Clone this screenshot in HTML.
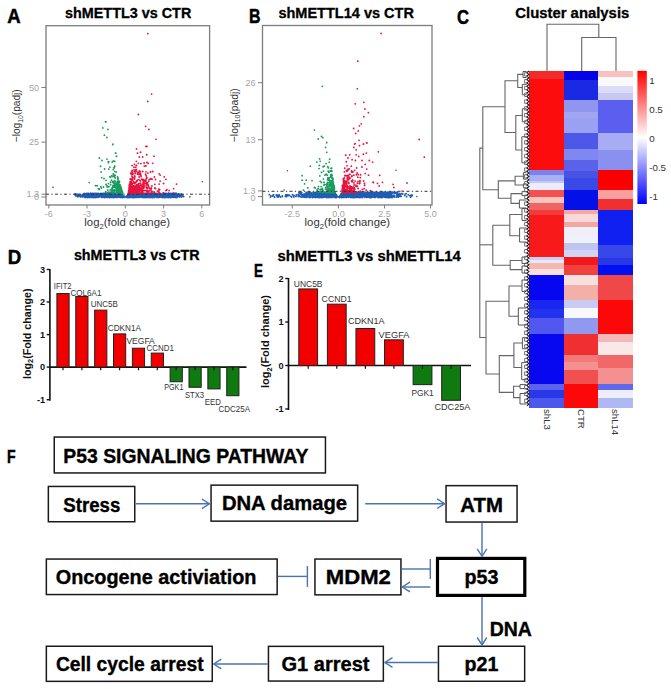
<!DOCTYPE html>
<html><head><meta charset="utf-8"><style>
html,body{margin:0;padding:0;background:#fff;}
svg{display:block;}
</style></head><body>
<svg width="671" height="689" viewBox="0 0 671 689">
<rect width="671" height="689" fill="#fff"/>
<text x="7.2" y="23.1" font-family="Liberation Sans" font-weight="bold" font-size="19.4" fill="#000" text-anchor="start" textLength="13.4" lengthAdjust="spacingAndGlyphs"  stroke="#000" stroke-width="0.5">A</text>
<text x="249.1" y="23.1" font-family="Liberation Sans" font-weight="bold" font-size="19.4" fill="#000" text-anchor="start" textLength="11.5" lengthAdjust="spacingAndGlyphs"  stroke="#000" stroke-width="0.5">B</text>
<text x="457.1" y="23.5" font-family="Liberation Sans" font-weight="bold" font-size="20.4" fill="#000" text-anchor="start" textLength="12.0" lengthAdjust="spacingAndGlyphs"  stroke="#000" stroke-width="0.5">C</text>
<text x="7.7" y="264.4" font-family="Liberation Sans" font-weight="bold" font-size="20.0" fill="#000" text-anchor="start" textLength="13.5" lengthAdjust="spacingAndGlyphs"  stroke="#000" stroke-width="0.5">D</text>
<text x="254.0" y="277.0" font-family="Liberation Sans" font-weight="bold" font-size="18.2" fill="#000" text-anchor="start" textLength="8.9" lengthAdjust="spacingAndGlyphs"  stroke="#000" stroke-width="0.5">E</text>
<text x="7.1" y="462.9" font-family="Liberation Sans" font-weight="bold" font-size="18.3" fill="#000" text-anchor="start" textLength="8.6" lengthAdjust="spacingAndGlyphs"  stroke="#000" stroke-width="0.5">F</text>
<text x="65.0" y="18.2" font-family="Liberation Sans" font-weight="bold" font-size="14.5" fill="#000" text-anchor="start" textLength="126.3" lengthAdjust="spacingAndGlyphs"  stroke="#000" stroke-width="0.3">shMETTL3 vs CTR</text>
<text x="278.4" y="18.0" font-family="Liberation Sans" font-weight="bold" font-size="14.5" fill="#000" text-anchor="start" textLength="135.5" lengthAdjust="spacingAndGlyphs"  stroke="#000" stroke-width="0.3">shMETTL14 vs CTR</text>
<text x="515.3" y="18.2" font-family="Liberation Sans" font-weight="bold" font-size="14.5" fill="#000" text-anchor="start" textLength="114.0" lengthAdjust="spacingAndGlyphs"  stroke="#000" stroke-width="0.3">Cluster analysis</text>
<text x="73.9" y="259.7" font-family="Liberation Sans" font-weight="bold" font-size="14.5" fill="#000" text-anchor="start" textLength="125.8" lengthAdjust="spacingAndGlyphs"  stroke="#000" stroke-width="0.3">shMETTL3 vs CTR</text>
<text x="277.5" y="260.9" font-family="Liberation Sans" font-weight="bold" font-size="14.5" fill="#000" text-anchor="start" textLength="183.3" lengthAdjust="spacingAndGlyphs"  stroke="#000" stroke-width="0.3">shMETTL3 vs shMETTL14</text>
<rect x="46.00" y="25.70" width="163.60" height="179.30" fill="none" stroke="#7c7c7c" stroke-width="1.3" />
<line x1="48.8" y1="205.0" x2="48.8" y2="208.5" stroke="#7c7c7c" stroke-width="1.0" />
<text x="48.8" y="216.6" font-family="Liberation Sans" font-size="9.0" fill="#a4a4a4" text-anchor="middle" >-6</text>
<line x1="87.0" y1="205.0" x2="87.0" y2="208.5" stroke="#7c7c7c" stroke-width="1.0" />
<text x="87.0" y="216.6" font-family="Liberation Sans" font-size="9.0" fill="#a4a4a4" text-anchor="middle" >-3</text>
<line x1="125.3" y1="205.0" x2="125.3" y2="208.5" stroke="#7c7c7c" stroke-width="1.0" />
<text x="125.3" y="216.6" font-family="Liberation Sans" font-size="9.0" fill="#a4a4a4" text-anchor="middle" >0</text>
<line x1="163.6" y1="205.0" x2="163.6" y2="208.5" stroke="#7c7c7c" stroke-width="1.0" />
<text x="163.6" y="216.6" font-family="Liberation Sans" font-size="9.0" fill="#a4a4a4" text-anchor="middle" >3</text>
<line x1="201.8" y1="205.0" x2="201.8" y2="208.5" stroke="#7c7c7c" stroke-width="1.0" />
<text x="201.8" y="216.6" font-family="Liberation Sans" font-size="9.0" fill="#a4a4a4" text-anchor="middle" >6</text>
<line x1="41.5" y1="87.5" x2="46.0" y2="87.5" stroke="#7c7c7c" stroke-width="1.0" />
<text x="39.0" y="90.7" font-family="Liberation Sans" font-size="9.0" fill="#a4a4a4" text-anchor="end" >50</text>
<line x1="41.5" y1="142.2" x2="46.0" y2="142.2" stroke="#7c7c7c" stroke-width="1.0" />
<text x="39.0" y="145.4" font-family="Liberation Sans" font-size="9.0" fill="#a4a4a4" text-anchor="end" >25</text>
<line x1="41.5" y1="194.2" x2="46.0" y2="194.2" stroke="#7c7c7c" stroke-width="1.0" />
<text x="39.0" y="196.6" font-family="Liberation Sans" font-size="9.0" fill="#a4a4a4" text-anchor="end" >1.3</text>
<line x1="41.5" y1="197.0" x2="46.0" y2="197.0" stroke="#7c7c7c" stroke-width="1.0" />
<text x="39.0" y="200.4" font-family="Liberation Sans" font-size="9.0" fill="#a4a4a4" text-anchor="end" >0</text>
<rect x="86.00" y="194.00" width="35.50" height="3.00" fill="#1f5cb4" stroke="none" stroke-width="1" />
<rect x="129.20" y="194.00" width="46.00" height="3.00" fill="#1f5cb4" stroke="none" stroke-width="1" />
<path d="M170.0 195.3h.01M131.2 195.8h.01M101.2 195.5h.01M142.6 196.6h.01M92.8 194.6h.01M92.4 196.7h.01M148.5 193.5h.01M175.3 197.4h.01M144.8 195.9h.01M98.6 193.4h.01M133.1 193.6h.01M101.7 194.3h.01M86.8 195.2h.01M132.3 196.0h.01M130.5 196.1h.01M176.8 197.5h.01M162.1 196.3h.01M113.3 194.3h.01M110.9 193.6h.01M155.3 195.0h.01M162.7 194.9h.01M173.1 196.9h.01M84.1 194.2h.01M168.7 195.3h.01M175.2 195.0h.01M90.8 195.9h.01M156.4 194.4h.01M92.1 194.7h.01M173.7 196.5h.01M95.0 194.3h.01M93.4 193.6h.01M158.1 194.0h.01M136.0 195.2h.01M101.7 196.4h.01M96.2 196.0h.01M94.8 195.1h.01M103.8 194.4h.01M174.3 196.7h.01M112.3 197.0h.01M103.6 195.0h.01M163.5 196.0h.01M93.3 197.5h.01M103.8 194.4h.01M155.9 194.7h.01M111.6 193.6h.01M92.4 195.7h.01M106.6 195.8h.01M118.6 195.2h.01M173.2 195.3h.01M137.4 196.9h.01M101.0 193.9h.01M168.5 196.7h.01M107.2 194.1h.01M152.8 197.2h.01M102.3 197.3h.01M166.0 195.8h.01M87.6 197.3h.01M106.2 196.3h.01M107.9 196.8h.01M139.5 194.5h.01M100.3 196.3h.01M90.4 194.3h.01M136.0 196.9h.01M141.1 194.5h.01M169.3 194.2h.01M85.5 194.4h.01M100.4 194.8h.01M137.2 193.9h.01M117.7 197.0h.01M175.2 196.1h.01M148.3 195.8h.01M97.1 193.4h.01M85.7 197.1h.01M149.2 197.3h.01M86.0 196.0h.01M128.8 196.4h.01M113.7 197.5h.01M91.0 195.6h.01M152.5 197.1h.01M152.5 196.3h.01M157.8 197.1h.01M116.7 196.2h.01M167.8 197.0h.01M122.8 196.6h.01M164.3 195.7h.01M142.1 194.9h.01M138.2 195.9h.01M91.5 196.0h.01M176.4 197.0h.01M151.7 194.9h.01M152.4 195.7h.01M91.8 196.5h.01M86.8 195.8h.01M128.7 194.3h.01M148.9 195.4h.01M141.1 197.2h.01M107.8 193.3h.01M112.0 196.1h.01M102.8 194.0h.01M168.2 196.1h.01M125.1 197.0h.01M114.4 196.1h.01M102.5 195.1h.01M159.0 197.1h.01M165.9 194.9h.01M138.2 194.6h.01M96.7 195.4h.01M161.8 196.9h.01M150.1 197.3h.01M109.7 194.0h.01M103.9 195.0h.01M142.2 195.4h.01M113.3 196.8h.01M175.3 195.2h.01M90.9 193.4h.01M165.2 193.5h.01M149.9 195.7h.01M112.7 196.6h.01M85.8 193.9h.01M161.2 194.3h.01M97.1 193.5h.01M142.5 195.2h.01M142.6 196.1h.01M159.1 197.3h.01M147.7 194.1h.01M85.0 195.3h.01M150.4 194.1h.01M109.3 194.8h.01M148.8 195.5h.01M141.1 196.5h.01M120.6 196.6h.01M168.3 193.7h.01M170.7 196.3h.01M96.1 195.2h.01M142.2 197.1h.01M119.0 195.7h.01M165.8 196.6h.01M171.8 195.2h.01M144.6 194.2h.01M151.1 196.7h.01M143.7 196.3h.01M103.8 197.1h.01M175.2 197.4h.01M133.9 196.6h.01M113.8 197.1h.01M163.6 194.8h.01M91.7 195.2h.01M135.2 196.5h.01M129.3 193.4h.01M159.3 193.6h.01M158.4 194.0h.01M115.2 196.6h.01M97.1 193.9h.01M132.0 196.3h.01M162.1 196.2h.01M172.0 195.4h.01M172.3 193.7h.01M104.6 195.5h.01M111.0 196.4h.01M143.4 195.5h.01M162.5 195.7h.01M113.0 194.9h.01M162.6 197.1h.01M103.4 196.9h.01M174.1 195.5h.01M137.3 194.1h.01M133.8 195.4h.01M140.3 193.4h.01M174.2 195.5h.01M121.3 196.7h.01M136.3 195.4h.01M148.3 193.6h.01M134.1 195.0h.01M173.0 197.2h.01M109.0 195.3h.01M95.8 195.1h.01M159.9 197.1h.01M128.3 194.6h.01M101.8 195.9h.01M170.1 193.8h.01M156.5 193.4h.01M102.1 194.3h.01M147.9 194.7h.01M117.0 195.9h.01M93.8 196.4h.01M95.4 195.4h.01M107.3 194.1h.01M133.3 195.1h.01M118.9 195.0h.01M133.2 194.0h.01M103.0 196.0h.01M143.4 195.5h.01M163.2 195.9h.01M163.7 194.3h.01M152.9 196.7h.01M167.9 194.6h.01M113.3 197.2h.01M104.3 197.5h.01M166.5 193.9h.01M106.3 196.4h.01M108.1 193.7h.01M161.4 195.1h.01M157.5 193.8h.01M121.5 196.2h.01M85.7 194.1h.01M147.5 197.1h.01M174.1 193.8h.01M131.0 196.5h.01M130.8 196.2h.01M101.6 193.6h.01M93.9 193.5h.01M135.3 195.5h.01M136.9 193.9h.01M101.2 194.2h.01M162.1 197.5h.01M170.2 193.7h.01M89.8 197.3h.01M127.0 196.5h.01M114.4 195.3h.01M131.9 195.1h.01M139.9 193.4h.01M149.2 196.8h.01M100.9 195.2h.01M152.8 195.0h.01M102.1 194.0h.01M131.7 193.4h.01M167.1 196.7h.01M149.5 196.9h.01M142.5 195.0h.01M139.8 195.4h.01M175.4 196.7h.01M108.0 197.1h.01M153.2 196.6h.01M159.8 195.0h.01M167.4 197.0h.01M148.6 196.5h.01M155.2 195.0h.01M151.2 193.6h.01M115.8 195.3h.01M85.0 194.8h.01M143.4 195.9h.01M105.6 197.3h.01M145.9 194.7h.01M145.4 195.7h.01M133.6 194.9h.01M177.0 196.0h.01M149.2 196.5h.01M175.1 193.4h.01M141.2 196.4h.01M107.9 195.0h.01M88.7 194.1h.01M118.9 193.7h.01M107.3 197.1h.01M135.2 195.4h.01M173.9 195.7h.01M176.5 196.0h.01M159.3 193.6h.01M139.6 196.5h.01M88.2 197.2h.01M98.9 195.3h.01M99.7 195.4h.01M140.8 193.5h.01M171.9 195.1h.01M133.0 195.8h.01M118.0 194.5h.01M144.9 195.7h.01M110.4 196.3h.01M111.5 193.4h.01M106.8 193.5h.01M98.6 196.5h.01M120.3 197.1h.01M153.6 193.5h.01M176.0 197.3h.01M90.8 197.1h.01M174.5 194.3h.01M132.7 197.2h.01M151.2 195.3h.01M175.0 196.7h.01M140.1 193.8h.01M142.1 195.2h.01M102.9 193.5h.01M133.1 193.8h.01M138.1 195.1h.01M156.4 195.5h.01M176.8 197.3h.01M152.3 194.3h.01M94.6 197.0h.01M156.9 195.9h.01M117.4 194.4h.01M147.7 195.7h.01M139.0 196.0h.01M154.1 194.1h.01M107.2 197.4h.01M169.2 197.0h.01M87.7 193.6h.01M109.2 195.1h.01M142.0 193.7h.01M134.4 193.6h.01M92.0 196.1h.01M135.2 196.0h.01M118.7 195.3h.01M103.6 194.7h.01M153.3 196.8h.01M90.9 193.8h.01M159.3 195.9h.01M155.5 194.2h.01M159.3 194.8h.01M144.8 197.5h.01M114.3 195.6h.01M153.4 197.2h.01M93.0 197.0h.01M91.3 193.6h.01M136.5 195.3h.01M147.7 194.6h.01M156.1 193.6h.01M103.8 196.1h.01M91.6 194.6h.01M151.4 196.2h.01M110.3 193.9h.01M117.3 196.3h.01M118.1 193.8h.01M150.0 195.7h.01M169.4 197.2h.01M168.9 195.1h.01M158.7 194.6h.01M113.5 195.0h.01M170.9 197.1h.01M107.1 194.8h.01M118.0 194.8h.01M120.8 194.9h.01M102.1 195.7h.01M158.1 195.6h.01M161.8 195.7h.01M100.4 196.5h.01M165.9 194.5h.01M86.1 195.5h.01M134.6 195.7h.01M173.9 196.0h.01M158.8 193.6h.01M134.9 196.6h.01M91.8 193.6h.01M152.5 197.1h.01M91.9 196.0h.01M97.4 196.4h.01M144.4 194.3h.01M104.5 196.5h.01M132.5 196.5h.01M120.7 194.7h.01M174.0 196.1h.01M129.9 195.6h.01M151.0 196.3h.01M169.1 195.0h.01M160.8 196.1h.01M163.4 196.7h.01M161.5 197.0h.01M173.1 196.0h.01M132.7 196.3h.01M158.6 195.1h.01M152.9 197.5h.01M118.9 194.0h.01M103.0 195.1h.01M111.2 197.4h.01M89.5 194.6h.01M94.7 196.0h.01M156.2 194.1h.01M89.8 195.2h.01M138.3 197.1h.01M87.4 193.8h.01M101.2 194.2h.01M105.9 196.3h.01M139.3 194.2h.01M101.2 194.5h.01M100.0 196.5h.01M113.0 195.6h.01M160.0 195.3h.01M108.2 197.0h.01M169.0 194.7h.01M134.9 197.3h.01M128.9 194.2h.01M88.6 197.3h.01M158.5 194.9h.01M133.1 195.5h.01M109.5 197.5h.01M145.2 194.3h.01M85.0 195.3h.01M118.6 196.6h.01M150.3 195.8h.01M98.6 194.0h.01M113.9 194.4h.01M164.8 195.5h.01M143.2 197.5h.01M108.8 195.5h.01M98.0 196.5h.01M84.1 196.7h.01M162.7 196.8h.01M91.7 194.4h.01M150.6 193.7h.01M128.6 195.3h.01M172.9 195.8h.01M163.7 194.6h.01M157.4 195.1h.01M169.3 193.7h.01M160.8 194.2h.01M134.5 195.5h.01M98.7 196.8h.01M113.0 194.6h.01M91.1 194.6h.01M127.5 196.3h.01M117.5 196.2h.01M93.8 195.0h.01M126.9 197.4h.01M161.2 196.0h.01M85.1 194.9h.01M150.0 194.3h.01M136.5 195.2h.01M85.0 197.5h.01M158.3 194.2h.01M141.3 194.5h.01M119.0 195.6h.01M111.7 194.7h.01M120.5 196.1h.01M107.8 194.1h.01M152.0 194.7h.01M171.9 195.7h.01M151.3 194.7h.01M160.9 193.7h.01M97.1 193.7h.01M147.0 196.3h.01M100.7 195.0h.01M161.8 195.8h.01M92.4 194.3h.01M98.6 193.8h.01M169.6 195.1h.01M131.6 196.0h.01M155.3 196.7h.01M119.9 194.7h.01M121.3 196.2h.01M175.3 196.6h.01M145.4 195.9h.01M85.7 194.7h.01M115.8 196.0h.01M93.9 194.9h.01M131.4 196.6h.01M160.7 195.9h.01M98.7 196.5h.01M168.0 195.6h.01M116.8 195.4h.01M97.2 196.3h.01M175.8 195.5h.01M150.5 196.8h.01M102.3 197.3h.01M142.3 194.1h.01M91.7 194.3h.01M137.6 196.2h.01M114.6 197.2h.01M117.6 195.2h.01M95.5 197.4h.01M96.6 197.1h.01M134.5 195.7h.01M136.1 194.4h.01M168.6 197.5h.01M160.0 195.8h.01M95.4 196.8h.01M110.8 197.1h.01M106.4 195.7h.01M161.3 194.1h.01M135.0 193.6h.01M87.0 194.1h.01M175.8 197.2h.01M145.2 194.6h.01M146.4 196.4h.01M119.5 195.8h.01M158.8 193.4h.01M102.6 195.3h.01M97.3 194.9h.01M137.0 194.0h.01M132.3 194.4h.01M136.8 194.7h.01M143.7 193.5h.01M146.4 193.9h.01M173.2 195.8h.01M127.7 195.0h.01M142.0 196.2h.01M154.5 196.5h.01M129.2 197.5h.01M162.0 196.9h.01M122.0 195.1h.01M136.6 197.1h.01M132.9 195.5h.01M124.2 197.1h.01M113.8 193.5h.01M151.5 197.1h.01M152.1 195.8h.01M153.9 194.6h.01M139.2 193.6h.01M95.6 195.2h.01M130.7 195.0h.01M88.8 196.2h.01M132.9 194.3h.01M112.5 195.0h.01M105.9 193.6h.01M168.8 197.4h.01M145.9 196.9h.01M123.2 196.7h.01M104.6 196.4h.01M136.7 197.1h.01M93.2 196.6h.01M95.5 195.6h.01M172.4 193.3h.01M106.7 194.6h.01M114.2 193.6h.01M167.2 196.7h.01M120.9 194.8h.01M138.5 193.5h.01M86.9 197.1h.01M112.6 195.4h.01M170.9 197.4h.01M111.5 197.2h.01M167.4 194.1h.01M161.9 194.8h.01M165.8 197.5h.01M102.8 196.0h.01M101.8 197.0h.01M88.7 193.7h.01M151.5 194.6h.01M167.7 197.0h.01M150.3 193.9h.01M148.7 197.2h.01M104.8 194.6h.01M150.1 194.1h.01M100.8 194.3h.01M145.8 196.6h.01M118.6 196.1h.01M166.3 195.8h.01M105.3 194.6h.01M170.2 196.1h.01M109.7 196.0h.01M92.4 197.4h.01M133.4 193.5h.01M139.8 194.5h.01M107.3 196.7h.01M92.1 194.5h.01M154.3 194.3h.01M110.0 195.6h.01M101.3 197.1h.01M175.9 193.4h.01M126.9 196.5h.01M119.8 197.2h.01M130.5 194.1h.01M135.7 196.0h.01M117.4 196.1h.01M156.8 195.5h.01M131.0 196.9h.01M147.6 195.5h.01M172.5 194.0h.01M156.5 194.0h.01M140.6 194.3h.01M157.2 196.6h.01M105.9 195.4h.01M104.6 195.7h.01M130.4 193.4h.01M139.5 196.3h.01M137.3 197.0h.01M100.7 193.9h.01M85.7 195.4h.01M108.5 196.7h.01M90.7 197.1h.01M136.9 195.6h.01M157.6 194.3h.01M97.6 194.6h.01M87.9 194.6h.01M141.8 195.5h.01M108.6 195.8h.01M92.2 196.7h.01M100.0 194.4h.01M98.9 196.2h.01M161.3 196.6h.01M89.7 195.0h.01M117.9 194.2h.01M174.3 193.5h.01M129.5 196.5h.01M175.7 193.9h.01M126.3 196.4h.01M87.6 194.3h.01M166.8 193.9h.01M120.5 194.6h.01M87.2 197.5h.01M155.0 196.4h.01M105.4 194.4h.01M135.3 194.3h.01M126.9 197.2h.01M117.9 194.7h.01M175.3 195.9h.01M87.7 195.0h.01M144.4 193.5h.01M115.9 196.2h.01M164.4 195.8h.01M166.4 195.2h.01M120.5 196.8h.01M119.4 196.6h.01M104.0 194.8h.01M101.1 195.6h.01M99.2 194.2h.01M103.9 195.3h.01M112.7 195.2h.01M176.4 196.2h.01M164.2 194.2h.01M119.6 193.6h.01M148.3 194.8h.01M109.5 193.4h.01M100.9 194.4h.01M120.5 197.2h.01M150.5 194.4h.01M117.6 193.9h.01M171.1 194.8h.01M155.2 196.3h.01M168.4 193.4h.01M114.0 194.9h.01M91.7 197.0h.01M114.2 196.5h.01M132.3 193.5h.01M120.6 194.3h.01M87.8 193.9h.01M139.4 193.4h.01M113.0 195.1h.01M134.6 193.9h.01M149.7 194.4h.01M151.5 196.1h.01M97.7 194.2h.01M110.1 196.3h.01M121.7 194.9h.01M164.5 194.2h.01M111.2 194.7h.01M104.1 193.5h.01M86.3 195.9h.01M136.6 196.7h.01M174.7 194.6h.01M146.4 197.2h.01M104.1 196.2h.01M146.0 197.3h.01M164.8 194.3h.01M142.8 193.7h.01M89.6 194.9h.01M114.5 195.4h.01M110.0 194.0h.01M121.4 195.3h.01M99.5 196.1h.01M106.3 193.7h.01M115.8 195.1h.01M98.0 195.7h.01M149.2 195.6h.01M149.1 193.4h.01M120.4 194.8h.01M89.9 195.0h.01M89.1 195.4h.01M138.5 195.3h.01M114.3 194.4h.01M86.2 194.8h.01M166.9 195.7h.01M108.4 196.1h.01M101.3 195.3h.01M141.2 197.3h.01M117.7 195.7h.01M171.6 196.5h.01M142.3 195.9h.01M122.2 195.0h.01M109.7 196.8h.01M165.8 194.9h.01M168.6 193.5h.01M96.6 195.4h.01M112.7 194.8h.01M174.9 193.9h.01M101.9 194.3h.01M147.3 194.3h.01M84.1 195.6h.01M120.6 194.3h.01M129.9 196.0h.01M135.0 195.9h.01M136.2 196.8h.01M174.1 194.7h.01M116.2 197.0h.01M113.1 196.3h.01M148.7 196.2h.01M173.6 196.8h.01M98.8 195.9h.01M129.6 195.7h.01M118.4 194.5h.01M153.7 195.5h.01M106.0 194.3h.01M114.2 194.0h.01M131.8 193.8h.01M89.9 193.6h.01M93.5 196.3h.01M94.5 195.2h.01M155.8 195.3h.01M99.1 196.9h.01M164.9 193.5h.01M107.6 195.4h.01M158.1 194.9h.01M150.6 194.4h.01M150.6 194.7h.01M115.0 196.5h.01M162.4 196.8h.01M136.8 195.1h.01M149.7 195.9h.01M161.3 196.7h.01M95.6 194.9h.01M146.3 194.3h.01M101.2 193.4h.01M138.5 197.3h.01M174.3 193.9h.01M147.9 195.1h.01M142.7 195.0h.01M170.8 197.5h.01M88.5 196.3h.01M95.0 193.5h.01M110.6 196.4h.01M176.4 193.8h.01M114.7 193.4h.01M134.5 195.3h.01M118.7 194.6h.01M158.4 196.8h.01M110.4 194.9h.01M141.5 196.5h.01M175.2 194.9h.01M148.5 195.6h.01M158.4 193.9h.01M100.3 193.7h.01M170.8 194.4h.01M129.4 193.8h.01M114.1 193.4h.01M136.6 193.9h.01M142.2 194.5h.01M105.2 195.3h.01M118.0 194.4h.01M88.8 193.6h.01M167.0 194.6h.01M91.3 194.1h.01M129.0 197.5h.01M102.8 196.9h.01M129.0 195.0h.01M159.1 195.0h.01M89.4 195.6h.01M145.1 195.9h.01M109.8 197.2h.01M164.4 197.5h.01M151.4 194.0h.01M86.5 194.0h.01M95.0 193.6h.01M117.4 196.5h.01M112.8 195.5h.01M85.0 194.2h.01M173.2 193.3h.01M133.0 196.7h.01M157.7 196.4h.01M121.1 196.7h.01M161.0 196.5h.01M175.7 193.7h.01M172.4 195.0h.01M149.6 194.4h.01M168.6 193.4h.01M137.6 194.3h.01M120.1 194.9h.01M145.1 196.7h.01M117.9 196.0h.01M116.9 194.5h.01M168.2 194.7h.01M92.8 194.7h.01M153.0 194.2h.01M153.1 195.6h.01M147.3 194.0h.01M93.8 193.9h.01M116.6 195.1h.01M84.9 195.4h.01M121.5 194.7h.01M134.0 197.3h.01M103.0 197.0h.01M113.8 196.5h.01M94.1 197.4h.01M124.0 197.3h.01M104.4 195.0h.01M149.7 194.0h.01M109.4 196.1h.01M172.1 194.7h.01M101.1 194.8h.01M176.0 193.9h.01M143.0 194.9h.01M143.9 194.2h.01M141.3 197.0h.01M163.6 195.9h.01M131.0 195.7h.01M94.6 196.8h.01M148.2 195.2h.01M145.9 195.1h.01M119.8 194.3h.01M139.9 195.7h.01M131.9 193.4h.01M142.3 195.2h.01M139.2 195.8h.01M170.6 193.9h.01M127.6 197.5h.01M152.6 194.6h.01M152.5 197.5h.01M121.4 196.9h.01M95.8 197.5h.01M129.7 194.3h.01M162.1 196.0h.01M171.2 196.8h.01M158.2 195.4h.01M176.4 193.6h.01M164.9 196.3h.01M107.3 196.7h.01M164.5 194.1h.01M110.0 196.0h.01M90.8 195.6h.01M157.2 195.4h.01M106.5 196.7h.01M163.5 196.5h.01M135.1 197.1h.01M158.1 193.9h.01M118.0 193.7h.01M87.4 194.8h.01M164.4 196.8h.01M94.9 194.1h.01M120.1 196.9h.01M141.4 197.1h.01M90.7 197.4h.01M103.2 195.9h.01M165.5 196.4h.01M102.3 196.1h.01M115.6 194.6h.01M142.6 194.5h.01M140.1 196.2h.01M100.8 193.8h.01M148.5 195.3h.01M96.0 193.8h.01M171.5 195.9h.01M117.3 194.1h.01M176.5 196.2h.01M152.5 194.8h.01M112.9 195.0h.01M97.6 196.0h.01M123.5 196.7h.01M122.0 195.2h.01M131.1 197.3h.01M116.2 196.3h.01M105.9 195.7h.01M110.5 197.0h.01M110.6 196.9h.01M146.9 195.2h.01M170.8 194.9h.01M153.1 195.8h.01M125.0 197.3h.01M111.2 196.2h.01M146.5 194.3h.01M167.3 194.4h.01M160.3 196.9h.01M138.9 195.6h.01M93.2 197.1h.01M92.2 194.8h.01M118.8 196.3h.01M146.2 194.7h.01M167.5 197.3h.01M86.2 196.0h.01M146.4 195.8h.01M174.2 197.4h.01M176.3 195.0h.01M161.1 196.0h.01M149.2 197.5h.01M90.2 195.2h.01M121.3 196.1h.01M104.3 197.5h.01M103.5 194.9h.01M97.3 195.0h.01M153.0 193.7h.01M99.5 196.0h.01M141.9 196.4h.01M107.6 196.7h.01M152.0 196.6h.01M95.1 195.3h.01M85.5 196.9h.01M171.8 197.1h.01M86.2 194.8h.01M133.8 195.5h.01M94.3 196.6h.01M112.0 195.4h.01M95.6 195.7h.01M96.1 193.7h.01M131.6 194.5h.01M156.3 194.3h.01M104.2 195.2h.01M135.9 195.2h.01M163.1 193.7h.01M163.1 194.0h.01M174.2 195.5h.01M121.8 195.9h.01M164.3 197.3h.01M98.3 196.7h.01M152.3 196.3h.01M98.6 195.5h.01M86.7 193.8h.01M112.0 197.4h.01M143.8 196.9h.01M88.3 195.0h.01M91.3 194.4h.01M94.4 197.2h.01M114.6 195.4h.01M144.8 197.0h.01M172.0 195.7h.01M130.6 197.1h.01M120.7 194.6h.01M152.8 194.4h.01M118.2 195.1h.01M128.3 194.8h.01M88.6 196.8h.01M89.7 195.5h.01M134.9 195.0h.01M104.7 193.7h.01M118.6 194.6h.01M129.0 194.3h.01M153.7 195.3h.01M84.8 195.0h.01M173.9 193.3h.01M139.2 197.3h.01M118.0 195.8h.01M118.3 194.6h.01M140.7 195.8h.01M113.3 195.4h.01M132.0 196.5h.01M88.9 193.7h.01M107.4 194.4h.01M158.0 195.1h.01M164.0 195.0h.01M110.6 196.2h.01M91.9 197.4h.01M161.3 194.7h.01M113.5 196.7h.01M157.3 196.0h.01M89.3 196.5h.01M88.5 195.9h.01M135.3 197.2h.01M143.4 193.4h.01M170.9 196.5h.01M137.9 193.3h.01M152.5 195.1h.01M147.2 197.4h.01M169.3 193.6h.01M156.7 195.2h.01M153.9 194.9h.01M95.0 194.6h.01M152.3 193.6h.01M94.8 196.8h.01M146.0 195.6h.01M94.5 193.8h.01M112.8 197.3h.01M136.1 197.2h.01M103.6 195.0h.01M133.9 196.8h.01M95.5 197.0h.01M146.7 197.2h.01M129.9 196.2h.01M120.1 196.6h.01M93.8 196.4h.01M99.5 195.8h.01M102.8 194.8h.01M99.2 194.8h.01M139.0 195.5h.01M120.1 195.7h.01M162.3 194.8h.01M138.3 195.3h.01M175.2 194.7h.01M148.9 194.3h.01M108.3 196.4h.01M137.5 194.4h.01M90.0 196.8h.01M119.1 196.3h.01M136.0 197.4h.01M168.6 195.2h.01M129.3 194.3h.01M154.0 193.7h.01M112.5 196.9h.01M87.3 196.2h.01M136.8 195.6h.01M115.0 193.9h.01M172.4 196.5h.01M158.9 193.7h.01M156.9 194.2h.01M102.5 195.5h.01M140.7 193.8h.01M155.1 195.7h.01M167.6 197.2h.01M148.1 194.8h.01M172.4 196.3h.01M111.1 196.9h.01M151.6 194.4h.01M107.2 193.4h.01M134.0 194.4h.01M111.3 194.4h.01M96.2 195.3h.01M109.4 194.5h.01M109.8 195.4h.01M165.3 194.0h.01M163.9 196.9h.01M140.7 195.6h.01M152.3 195.5h.01M145.4 197.2h.01M156.1 194.4h.01M89.1 197.2h.01M117.7 196.6h.01M105.7 195.2h.01M118.5 196.4h.01M171.8 195.4h.01M136.6 194.8h.01M105.6 197.3h.01M94.3 197.3h.01M145.1 193.6h.01M167.9 193.7h.01M136.6 193.8h.01M176.0 194.6h.01M165.1 193.6h.01M146.0 193.6h.01M86.8 195.7h.01M175.4 196.2h.01M163.5 196.6h.01M132.5 193.6h.01M133.0 194.1h.01M133.0 194.8h.01M130.4 194.1h.01M149.6 195.1h.01M129.2 193.6h.01M129.3 195.6h.01M174.4 195.7h.01M96.5 194.6h.01M115.2 196.2h.01M171.3 197.4h.01M172.3 197.2h.01M163.9 197.2h.01M85.9 195.4h.01M138.9 196.2h.01M141.0 195.9h.01M170.8 193.7h.01M132.3 197.3h.01M87.0 193.8h.01M164.8 197.3h.01M86.2 193.4h.01M161.2 196.2h.01M132.3 195.7h.01M154.4 196.7h.01M84.1 193.6h.01M157.9 197.4h.01M161.5 195.0h.01M115.2 194.8h.01M85.4 196.5h.01M108.4 195.8h.01M132.9 194.7h.01M146.8 195.2h.01M105.8 197.0h.01M100.3 193.9h.01M107.6 195.3h.01M156.9 194.7h.01M106.2 196.0h.01M108.2 195.5h.01M107.7 197.0h.01M101.2 194.3h.01M112.0 194.7h.01M151.6 196.1h.01M157.5 195.6h.01M91.3 196.5h.01M106.7 194.2h.01M122.5 197.5h.01M118.5 194.8h.01M168.7 197.5h.01M120.0 193.9h.01M157.4 196.6h.01M115.4 196.6h.01M119.3 194.5h.01M139.2 196.4h.01M128.3 196.7h.01M85.3 195.4h.01M119.4 193.6h.01M169.1 193.9h.01M103.1 197.0h.01M173.3 197.2h.01M115.8 197.2h.01M97.2 196.3h.01M171.9 194.1h.01M96.6 196.1h.01M166.1 196.4h.01M172.3 195.2h.01M118.6 193.8h.01M109.4 197.2h.01M90.7 194.1h.01M116.3 193.5h.01M112.5 194.1h.01M95.4 195.5h.01M134.2 195.7h.01M154.9 195.5h.01M172.1 193.6h.01M104.7 193.6h.01M112.8 196.5h.01M169.9 195.4h.01M98.9 194.7h.01M136.9 194.5h.01M157.7 197.4h.01M126.8 195.8h.01M162.7 195.3h.01M101.7 197.3h.01M174.9 193.4h.01M154.9 195.0h.01M88.8 194.0h.01M100.1 196.4h.01M103.7 193.4h.01M104.4 196.7h.01M130.4 196.0h.01M85.4 194.6h.01M87.9 194.4h.01M141.5 194.9h.01M128.0 195.9h.01M113.5 194.8h.01M166.2 195.7h.01M122.8 195.6h.01M169.0 194.3h.01M171.0 196.9h.01M166.0 194.0h.01M131.3 197.4h.01M110.8 194.0h.01M151.3 194.3h.01M138.3 194.0h.01M172.1 194.5h.01M93.0 196.2h.01M116.3 195.6h.01M130.2 197.2h.01M131.8 194.9h.01M84.2 195.4h.01M109.0 195.7h.01M142.8 195.2h.01M92.4 195.4h.01M128.8 196.0h.01M174.2 194.5h.01M158.4 194.3h.01M161.1 196.7h.01M107.7 197.1h.01M130.9 195.1h.01M135.6 197.3h.01M129.6 195.3h.01M111.0 196.8h.01M130.8 194.7h.01M102.3 194.2h.01M161.6 196.7h.01M175.0 197.2h.01M147.7 196.6h.01M150.2 196.7h.01M158.5 194.0h.01M159.8 194.6h.01M106.7 197.2h.01M86.1 195.4h.01M115.9 196.6h.01M140.8 197.1h.01M170.7 196.0h.01M90.0 196.1h.01M94.2 197.4h.01M165.0 194.6h.01M101.3 196.2h.01M154.5 197.4h.01M141.9 193.8h.01M151.6 193.5h.01M164.7 196.5h.01M157.0 197.0h.01M136.9 197.3h.01M143.4 195.4h.01M119.8 194.8h.01M86.1 194.0h.01M158.0 194.3h.01M144.8 196.6h.01M148.6 195.5h.01M113.4 194.4h.01M101.4 196.0h.01M147.8 197.3h.01M114.7 197.2h.01M168.8 194.5h.01M172.5 195.9h.01M173.5 196.6h.01M115.0 194.5h.01M132.6 195.3h.01M87.3 196.9h.01M133.8 195.3h.01M153.2 194.3h.01M102.5 195.7h.01M106.4 194.7h.01M90.5 193.5h.01M117.0 195.5h.01M172.2 196.0h.01M122.5 195.0h.01M105.9 195.3h.01M173.2 193.8h.01M124.3 196.2h.01M154.9 195.6h.01M143.6 197.2h.01M167.9 194.4h.01M134.3 197.5h.01M133.1 194.1h.01M155.2 193.5h.01M98.0 195.6h.01M109.3 196.3h.01M151.6 194.6h.01M155.3 196.0h.01M149.7 195.2h.01M128.2 197.3h.01M166.6 193.5h.01M90.6 194.4h.01M148.6 195.1h.01M95.9 195.1h.01M137.3 196.4h.01M121.5 196.0h.01M147.4 195.9h.01M88.3 196.3h.01M96.0 193.5h.01M90.8 194.9h.01M172.7 196.9h.01M129.3 195.8h.01M113.4 197.4h.01M95.2 194.6h.01M104.5 196.9h.01M131.3 195.0h.01M121.1 197.0h.01M107.9 196.6h.01M149.9 195.2h.01M118.0 195.1h.01M142.0 195.0h.01M112.2 196.5h.01M165.8 195.2h.01M119.0 197.1h.01M174.8 196.6h.01M121.3 196.1h.01M152.9 194.5h.01M151.3 197.3h.01M145.0 196.1h.01M105.0 196.5h.01M134.1 197.4h.01M115.8 196.3h.01M85.6 195.0h.01M155.3 194.4h.01M141.1 194.2h.01M121.0 197.5h.01M102.3 197.1h.01M89.6 195.7h.01M160.4 196.8h.01M120.4 195.8h.01M150.2 196.5h.01M153.4 195.7h.01M107.4 196.3h.01M136.2 195.6h.01M175.8 193.9h.01M156.6 194.7h.01M151.6 197.3h.01M109.5 195.7h.01M133.1 195.4h.01M99.5 195.9h.01M167.1 196.1h.01M110.9 196.7h.01M140.3 195.2h.01M133.3 197.5h.01M137.0 197.3h.01M116.8 196.5h.01M91.0 194.6h.01M148.3 196.2h.01M161.0 194.9h.01M109.4 194.8h.01M134.0 193.4h.01M118.8 196.1h.01M97.8 194.6h.01M165.2 197.2h.01M107.2 194.0h.01M94.9 193.7h.01M157.8 196.4h.01M108.6 195.4h.01M148.7 193.4h.01M160.2 196.9h.01M103.7 196.3h.01M149.0 194.7h.01M165.7 194.2h.01M128.1 194.6h.01M137.0 195.9h.01M175.8 194.2h.01M104.7 195.9h.01M98.0 197.3h.01M115.7 195.1h.01M124.1 196.8h.01M169.1 196.1h.01M99.9 194.8h.01M149.7 194.2h.01M166.1 197.0h.01M105.1 194.8h.01M105.3 196.3h.01M88.4 196.2h.01M89.8 196.8h.01M134.5 195.7h.01M92.9 193.5h.01M116.8 197.4h.01M139.8 196.9h.01M89.8 193.7h.01M85.9 196.2h.01M100.4 194.4h.01M146.0 196.2h.01M114.0 195.3h.01M110.9 195.7h.01M117.1 194.8h.01M107.1 194.5h.01M108.3 193.4h.01M112.9 195.8h.01M109.0 193.8h.01M162.7 195.3h.01M131.6 194.6h.01M166.5 196.5h.01M141.9 196.1h.01M148.4 195.4h.01M122.4 194.9h.01M130.9 195.3h.01M133.2 195.5h.01M157.3 197.0h.01M104.8 193.4h.01M112.0 193.4h.01M158.1 195.9h.01M110.6 194.1h.01M164.8 196.8h.01M147.6 196.2h.01M153.2 195.2h.01M121.0 195.6h.01M165.9 197.5h.01M169.3 196.8h.01M90.9 194.3h.01M174.3 195.6h.01M131.9 194.6h.01M164.2 195.5h.01M176.1 193.6h.01M176.4 193.4h.01M97.8 194.9h.01M143.5 193.8h.01M136.3 197.2h.01M124.5 196.5h.01M139.0 195.7h.01M100.1 195.2h.01M167.7 196.1h.01M104.2 195.2h.01M134.6 194.7h.01M137.7 196.0h.01M85.7 194.2h.01M145.1 194.2h.01M90.8 196.5h.01M115.0 197.3h.01M136.0 193.7h.01M143.2 194.4h.01M159.7 196.3h.01M154.5 193.5h.01M87.2 196.7h.01M97.1 194.1h.01M86.8 194.0h.01M128.0 197.3h.01M113.9 194.4h.01M161.0 194.1h.01M143.1 195.9h.01M171.0 193.5h.01M136.4 194.9h.01M160.6 194.4h.01M150.5 194.1h.01M130.0 197.4h.01M106.3 194.5h.01M169.3 196.1h.01M90.1 194.1h.01M106.1 194.5h.01M162.5 196.2h.01M175.1 196.1h.01M142.4 194.9h.01M150.7 195.4h.01M89.5 195.4h.01M119.7 195.5h.01M88.5 193.4h.01M175.4 194.9h.01M114.7 193.9h.01M139.1 197.1h.01M100.8 195.4h.01M130.5 196.5h.01M136.6 194.3h.01M101.6 196.3h.01M91.3 196.9h.01M87.1 194.1h.01M127.5 196.8h.01M141.6 196.4h.01M154.8 196.3h.01M88.8 196.8h.01M97.7 194.0h.01M87.5 193.4h.01M165.6 194.9h.01M92.0 193.5h.01M162.7 195.8h.01M169.2 193.5h.01M94.5 194.5h.01M101.8 193.8h.01M102.7 196.0h.01M99.6 194.0h.01M133.8 194.9h.01M97.9 195.7h.01M131.2 194.9h.01M141.2 194.1h.01M115.2 193.3h.01M166.6 195.8h.01M120.5 195.6h.01M171.4 193.9h.01M119.7 196.3h.01M118.6 196.3h.01M168.5 193.5h.01M110.5 194.5h.01M153.8 196.6h.01M149.1 197.2h.01M101.3 195.0h.01M163.3 196.5h.01M94.5 197.4h.01M152.9 196.9h.01M117.7 195.8h.01M173.2 197.1h.01M137.7 197.0h.01M176.9 196.8h.01M145.0 197.3h.01M97.4 195.0h.01M136.5 193.9h.01M156.6 193.6h.01M142.5 194.5h.01M114.0 195.8h.01M101.8 195.2h.01M163.7 197.4h.01M108.4 194.8h.01M148.5 194.1h.01M163.0 194.1h.01M135.8 194.7h.01M84.1 193.3h.01M84.2 194.7h.01M109.6 197.5h.01M143.3 193.6h.01M150.6 194.3h.01M128.8 196.3h.01M163.7 197.2h.01M121.0 194.6h.01M153.0 195.2h.01M147.8 193.9h.01M156.8 197.4h.01M102.9 195.9h.01M75.6 194.1h.01M179.9 194.5h.01M81.3 195.7h.01M181.7 196.9h.01M74.6 194.3h.01M177.3 195.4h.01M82.2 196.1h.01M180.8 196.6h.01M77.7 194.3h.01M181.5 194.1h.01M76.3 194.1h.01M178.1 194.2h.01M79.3 194.4h.01M181.2 196.5h.01M77.4 194.4h.01M181.7 196.2h.01M82.8 195.7h.01M181.1 196.6h.01M80.8 196.9h.01M179.0 196.3h.01M80.3 195.4h.01M177.1 195.4h.01M76.6 195.8h.01M180.6 195.5h.01M74.6 194.4h.01M181.2 196.0h.01M83.9 196.4h.01M179.0 195.4h.01M79.1 196.4h.01M179.8 196.8h.01M78.8 195.2h.01M180.4 195.1h.01M84.0 194.1h.01M179.8 194.2h.01M80.8 194.5h.01M178.0 195.3h.01M80.0 196.3h.01M180.1 194.9h.01M77.7 196.7h.01M178.5 194.0h.01M82.9 195.4h.01M177.9 194.4h.01M82.9 196.2h.01M177.5 196.0h.01M76.1 195.3h.01M181.2 194.2h.01M83.4 195.0h.01M178.0 196.3h.01M75.1 194.1h.01M181.6 195.4h.01M83.0 196.4h.01M178.4 194.1h.01M80.0 195.4h.01M179.1 196.8h.01M76.1 195.9h.01M177.5 196.8h.01M83.5 195.9h.01M179.2 196.2h.01M83.0 196.4h.01M177.3 195.5h.01M75.4 195.6h.01M183.7 196.6h.01M76.5 195.7h.01M179.2 194.5h.01M81.4 196.3h.01M179.4 195.3h.01M81.0 196.2h.01M180.2 194.4h.01M75.0 194.5h.01M182.8 195.5h.01M80.4 195.1h.01M179.6 194.5h.01M83.7 195.8h.01M177.9 196.1h.01M80.0 195.8h.01M182.4 195.8h.01M82.8 196.9h.01M179.8 195.9h.01M77.7 195.2h.01M179.6 195.9h.01" stroke="#1f5cb4" stroke-width="1.80" stroke-linecap="round" opacity="1.0" fill="none"/>
<path d="M118.7 185.0h.01M118.1 192.5h.01M121.9 190.8h.01M120.4 186.1h.01M119.3 182.2h.01M112.1 188.0h.01M106.0 184.5h.01M117.4 186.0h.01M117.6 187.9h.01M119.8 191.2h.01M108.9 186.7h.01M120.4 192.0h.01M118.1 186.3h.01M120.6 190.5h.01M118.4 184.2h.01M119.5 191.7h.01M115.0 177.7h.01M114.3 192.3h.01M117.9 190.2h.01M120.6 191.6h.01M122.4 192.0h.01M107.1 186.9h.01M118.9 190.9h.01M118.6 188.8h.01M118.2 185.9h.01M117.9 179.4h.01M122.0 191.5h.01M118.4 183.2h.01M116.2 187.8h.01M121.5 190.3h.01M120.7 192.5h.01M122.3 192.4h.01M120.9 189.1h.01M105.7 191.8h.01M121.0 189.9h.01M121.0 189.6h.01M113.4 190.3h.01M119.0 186.0h.01M117.0 186.9h.01M119.4 184.8h.01M117.6 182.5h.01M120.4 188.0h.01M117.3 190.7h.01M121.0 188.2h.01M119.5 191.6h.01M115.9 184.5h.01M95.5 185.6h.01M116.1 190.2h.01M118.0 178.2h.01M116.5 187.7h.01M121.9 191.9h.01M122.6 192.9h.01M111.7 193.0h.01M120.6 193.3h.01M111.1 189.7h.01M119.9 184.7h.01M112.0 189.5h.01M116.7 192.2h.01M119.7 190.7h.01M116.3 193.2h.01M121.3 189.0h.01M111.5 192.3h.01M118.9 185.9h.01M111.9 189.4h.01M113.8 174.8h.01M115.2 175.5h.01M112.6 188.0h.01M120.6 188.1h.01M114.0 176.2h.01M110.2 189.9h.01M116.4 191.8h.01M112.9 186.7h.01M117.6 176.9h.01M114.1 185.3h.01M118.4 182.8h.01M119.0 181.1h.01M120.2 186.4h.01M117.2 184.3h.01M119.6 192.6h.01M116.6 189.7h.01M117.6 181.5h.01M112.4 191.4h.01M121.6 191.9h.01M107.0 159.1h.01M119.8 190.0h.01M117.0 182.7h.01M120.2 191.9h.01M121.6 191.2h.01M113.0 185.4h.01M116.8 190.7h.01M112.7 187.2h.01M108.6 161.6h.01M118.9 193.1h.01M118.9 192.1h.01M118.1 185.9h.01M116.0 190.8h.01M118.9 188.1h.01M114.0 183.3h.01M119.3 192.6h.01M112.1 191.3h.01M117.7 187.3h.01M118.7 183.9h.01M121.5 191.9h.01M121.4 190.6h.01M120.5 188.6h.01M108.8 169.1h.01M97.2 185.8h.01M117.6 189.6h.01M113.3 174.0h.01M122.4 193.0h.01M100.5 166.2h.01M117.6 188.4h.01M120.7 187.4h.01M114.8 184.6h.01M119.6 189.8h.01M113.7 181.8h.01M119.9 185.0h.01M121.6 190.0h.01M118.1 189.4h.01M120.3 192.0h.01M119.5 181.6h.01M116.3 188.1h.01M118.2 191.5h.01M121.1 191.0h.01M119.0 192.6h.01M120.7 192.6h.01M119.1 192.2h.01M120.9 187.0h.01M117.0 191.7h.01M110.6 184.8h.01M116.4 189.3h.01M107.3 185.9h.01M120.8 189.9h.01M107.7 190.3h.01M99.4 158.0h.01M116.2 172.0h.01M114.6 180.6h.01M121.9 192.6h.01M119.3 190.4h.01M121.4 192.3h.01M107.9 192.6h.01M112.0 190.7h.01M118.3 192.5h.01M119.6 185.9h.01M121.2 192.1h.01M101.1 172.1h.01M110.4 192.2h.01M116.0 184.3h.01M109.9 176.7h.01M122.7 193.4h.01M113.8 187.3h.01M119.7 190.7h.01M118.6 190.7h.01M111.8 175.7h.01M113.0 192.3h.01M115.4 185.9h.01M121.1 189.9h.01M115.4 187.8h.01M110.5 177.2h.01M114.2 167.7h.01M105.9 192.5h.01M121.6 192.6h.01M115.8 185.1h.01M117.4 182.6h.01M121.2 190.3h.01M120.9 191.9h.01M120.6 186.8h.01M117.7 189.4h.01M119.9 186.9h.01M121.1 188.1h.01M119.0 189.8h.01M117.7 190.2h.01M115.1 186.5h.01M116.8 192.7h.01M119.6 189.6h.01M111.4 193.4h.01M121.8 192.7h.01M114.9 190.4h.01M110.5 182.2h.01M121.7 191.9h.01M120.1 186.0h.01M118.4 190.9h.01M119.3 186.3h.01M114.1 193.5h.01M111.5 180.1h.01M113.8 190.2h.01M117.4 187.2h.01M118.2 192.4h.01M112.7 182.4h.01M114.4 190.0h.01M120.0 190.3h.01M117.8 189.4h.01M115.1 177.9h.01M109.9 167.1h.01M114.4 185.5h.01M114.8 166.2h.01M117.8 179.0h.01M115.1 183.3h.01M120.4 188.7h.01M119.9 189.9h.01M118.9 181.3h.01M120.9 191.7h.01M120.5 189.0h.01M117.9 193.3h.01M108.8 192.1h.01M112.5 181.7h.01M118.3 184.7h.01M117.3 190.9h.01M118.9 192.1h.01M119.1 188.8h.01" stroke="#1a9a5c" stroke-width="1.90" stroke-linecap="round" opacity="1.0" fill="none"/>
<path d="M103.5 187.0h.01M114.2 190.7h.01M102.0 160.5h.01M117.4 181.8h.01M114.7 171.3h.01M114.0 167.7h.01M106.0 180.3h.01M101.7 177.6h.01M118.7 193.4h.01M98.3 188.8h.01M115.4 181.6h.01M99.3 189.4h.01" stroke="#1a9a5c" stroke-width="1.80" stroke-linecap="round" opacity="1.0" fill="none"/>
<path d="M105.9 122.0h.01M102.8 127.9h.01M107.9 129.4h.01M106.9 137.5h.01M112.7 144.6h.01M115.5 153.2h.01M116.5 156.2h.01M108.4 162.0h.01M113.5 160.8h.01M112.2 162.0h.01M115.8 153.2h.01M116.4 156.3h.01M108.4 162.7h.01M113.5 160.8h.01M114.7 161.4h.01M104.6 169.0h.01M113.2 169.6h.01M104.0 178.5h.01M112.8 176.6h.01M108.4 183.6h.01M100.8 186.7h.01M98.9 188.6h.01M101.4 188.0h.01M105.5 121.6h.01M104.4 135.2h.01M113.0 144.1h.01" stroke="#1a9a5c" stroke-width="1.80" stroke-linecap="round" opacity="1.0" fill="none"/>
<path d="M132.3 187.8h.01M134.6 189.9h.01M139.8 190.0h.01M141.5 191.8h.01M158.7 189.1h.01M130.0 188.6h.01M136.2 165.5h.01M138.2 179.6h.01M131.6 193.2h.01M134.3 171.6h.01M143.6 181.5h.01M133.2 187.6h.01M136.0 189.0h.01M139.5 189.2h.01M136.9 192.5h.01M134.2 191.4h.01M132.5 190.1h.01M135.7 191.8h.01M129.0 192.7h.01M169.1 190.6h.01M128.8 190.6h.01M136.5 188.2h.01M130.4 186.7h.01M130.4 184.2h.01M141.9 186.3h.01M139.7 172.2h.01M129.1 192.6h.01M134.8 176.5h.01M130.1 184.3h.01M147.9 184.4h.01M136.8 184.9h.01M140.5 152.3h.01M134.7 175.9h.01M140.8 193.4h.01M140.3 171.4h.01M150.7 193.2h.01M143.0 190.8h.01M138.9 174.6h.01M137.2 192.6h.01M129.8 188.0h.01M133.9 186.8h.01M130.4 189.4h.01M134.3 192.7h.01M143.1 179.4h.01M141.9 189.8h.01M140.0 186.1h.01M142.3 192.9h.01M136.4 189.6h.01M163.3 192.7h.01M130.1 190.3h.01M144.0 186.1h.01M129.2 193.0h.01M146.7 154.8h.01M136.7 185.8h.01M129.2 190.4h.01M138.2 192.2h.01M135.5 191.2h.01M141.2 188.0h.01M134.0 188.5h.01M129.4 184.9h.01M133.6 193.0h.01M158.2 193.1h.01M149.5 188.3h.01M130.3 192.5h.01M136.4 193.2h.01M138.2 187.2h.01M137.0 188.5h.01M139.5 191.0h.01M143.3 187.5h.01M138.1 191.4h.01M130.0 186.9h.01M154.3 192.8h.01M152.7 171.5h.01M136.7 189.3h.01M136.7 189.1h.01M163.6 183.5h.01M130.5 189.6h.01M129.7 190.3h.01M133.5 191.1h.01M141.5 192.6h.01M141.0 190.1h.01M149.3 179.4h.01M136.3 181.6h.01M131.4 188.6h.01M130.4 190.7h.01M146.5 190.8h.01M131.5 191.2h.01M132.7 173.9h.01M151.7 191.4h.01M131.1 189.9h.01M132.0 176.2h.01M131.4 186.1h.01M147.0 162.5h.01M140.9 163.6h.01M129.5 184.5h.01M134.5 177.8h.01M131.2 190.1h.01M148.9 193.2h.01M146.6 185.0h.01M136.5 184.8h.01M135.5 186.2h.01M136.5 188.1h.01M129.9 182.1h.01M144.1 183.7h.01M135.2 182.7h.01M147.1 190.4h.01M133.1 189.3h.01M151.4 188.0h.01M131.4 192.5h.01M159.6 192.9h.01M134.0 190.4h.01M137.2 191.0h.01M130.4 186.6h.01M132.1 192.0h.01M131.9 190.1h.01M143.2 186.6h.01M146.2 182.7h.01M146.9 191.8h.01M140.9 175.2h.01M133.8 191.4h.01M136.8 187.8h.01M158.7 191.2h.01M134.6 190.6h.01M132.1 184.6h.01M135.6 190.8h.01M136.4 169.8h.01M132.4 190.4h.01M132.2 179.0h.01M134.0 167.2h.01M173.6 188.6h.01M148.1 193.3h.01M137.6 191.6h.01M133.6 193.0h.01M145.8 180.8h.01M135.0 191.3h.01M142.5 193.5h.01M147.0 188.4h.01M128.9 192.2h.01M132.0 192.3h.01M140.6 183.2h.01M154.9 188.0h.01M135.6 187.4h.01M134.2 188.7h.01M135.3 191.7h.01M134.7 179.0h.01M138.5 184.0h.01M135.3 189.8h.01M134.7 190.2h.01M140.3 180.9h.01M129.5 193.1h.01M133.0 185.7h.01M130.2 179.0h.01M137.0 180.7h.01M146.5 182.6h.01M135.7 192.3h.01M140.1 192.3h.01M148.4 185.8h.01M133.9 186.9h.01M133.9 190.2h.01M130.3 189.6h.01M134.9 192.4h.01M138.4 193.4h.01M130.2 190.9h.01M130.7 173.1h.01M139.7 186.7h.01M139.2 177.0h.01M134.4 187.0h.01M137.2 190.5h.01M135.1 173.4h.01M137.5 189.7h.01M144.2 184.1h.01M132.4 173.3h.01M140.4 174.8h.01M136.9 185.2h.01M160.2 175.1h.01M140.5 189.7h.01M131.4 187.6h.01M132.8 186.3h.01M129.1 192.4h.01M142.7 180.6h.01M148.8 181.1h.01M138.2 190.0h.01M152.2 191.9h.01M132.4 177.7h.01M135.4 191.9h.01M132.7 180.3h.01M132.1 187.9h.01M140.4 193.5h.01M139.8 187.8h.01M131.3 179.4h.01M150.5 172.0h.01M142.5 191.3h.01M145.2 190.4h.01M132.0 189.9h.01M142.7 171.5h.01M142.6 192.9h.01M147.7 182.6h.01M130.0 182.0h.01M135.4 186.6h.01M151.3 188.4h.01M146.5 191.1h.01M132.1 191.0h.01M154.1 191.9h.01M133.8 187.2h.01M139.8 180.1h.01M147.9 187.8h.01M128.5 191.9h.01M131.2 184.1h.01M143.1 184.2h.01M135.4 170.3h.01M139.4 191.1h.01M140.4 173.6h.01M128.5 192.0h.01M137.6 192.7h.01M129.3 190.8h.01M131.9 186.1h.01M131.2 189.2h.01M133.3 177.6h.01M131.0 189.5h.01M131.7 183.9h.01M136.5 188.3h.01M131.1 182.2h.01M130.0 191.3h.01M143.1 190.3h.01M145.6 174.3h.01M138.1 188.7h.01M143.1 183.0h.01M146.2 187.3h.01M138.9 188.1h.01M133.2 189.8h.01M145.9 165.9h.01M142.7 192.4h.01M129.0 189.0h.01M154.4 176.9h.01M134.0 188.4h.01M134.4 193.3h.01M134.2 193.0h.01M131.0 173.8h.01M136.0 182.3h.01M130.1 192.3h.01M129.2 189.4h.01M133.7 186.3h.01M133.8 182.7h.01M135.6 171.6h.01M144.5 190.5h.01M139.2 191.4h.01M165.9 190.6h.01M150.8 178.8h.01M136.8 186.9h.01M135.7 188.3h.01M132.0 187.8h.01M146.2 183.2h.01M137.9 190.6h.01M129.6 193.5h.01M133.9 185.9h.01M140.3 185.8h.01M141.3 187.9h.01M137.6 193.4h.01M131.6 183.0h.01M145.1 180.2h.01M166.9 189.8h.01M147.2 184.5h.01M137.4 174.0h.01M137.4 190.7h.01M152.0 179.2h.01M133.6 187.5h.01M130.3 185.8h.01M132.2 193.0h.01M148.8 190.9h.01M135.0 191.2h.01M130.4 186.9h.01M135.4 189.1h.01M135.2 192.1h.01M130.5 192.1h.01M137.6 187.3h.01M132.1 165.6h.01M130.3 184.0h.01M140.8 193.3h.01M132.1 171.6h.01M130.6 181.7h.01M129.1 187.3h.01M129.3 191.8h.01M131.2 181.2h.01M151.9 185.9h.01M138.2 184.1h.01M132.4 183.3h.01M129.8 189.9h.01M129.5 184.3h.01M133.7 181.8h.01M131.9 171.5h.01M129.3 185.6h.01M146.8 177.4h.01M160.1 181.1h.01M135.1 187.7h.01M141.1 176.6h.01M133.5 191.8h.01M133.6 187.6h.01M147.9 173.1h.01M135.3 189.1h.01M139.0 172.8h.01M136.4 165.5h.01M131.4 187.2h.01M133.8 187.4h.01M137.5 172.2h.01M143.6 185.8h.01M144.1 163.0h.01M128.4 193.3h.01M143.9 187.7h.01M133.8 190.3h.01M131.4 187.7h.01M138.2 188.6h.01M131.4 191.6h.01M130.6 191.8h.01M141.0 184.8h.01M134.5 190.1h.01M159.6 189.8h.01M146.2 175.7h.01M141.8 179.2h.01M144.3 166.1h.01M133.5 193.3h.01M148.2 191.3h.01M131.9 173.5h.01M134.3 183.3h.01M129.4 188.6h.01M137.7 189.2h.01M137.7 185.0h.01M133.6 193.0h.01M129.5 192.5h.01M142.7 192.5h.01M139.0 183.6h.01M144.7 180.7h.01M141.6 188.8h.01M129.7 192.5h.01M135.5 189.5h.01M133.3 191.5h.01M159.1 184.1h.01M131.1 173.8h.01M149.9 190.5h.01M130.0 188.6h.01M145.6 183.1h.01" stroke="#e8123e" stroke-width="1.90" stroke-linecap="round" opacity="1.0" fill="none"/>
<path d="M132.3 170.4h.01M165.9 179.3h.01M135.9 171.2h.01M143.2 184.2h.01M131.8 186.3h.01M143.3 187.5h.01M132.0 192.4h.01M133.1 173.8h.01M154.8 184.3h.01M136.5 148.9h.01M138.3 185.0h.01M144.1 182.9h.01M176.5 184.1h.01M134.0 169.8h.01M142.7 188.4h.01M164.2 176.8h.01M138.2 186.6h.01M148.6 186.6h.01M150.9 189.4h.01M131.0 187.6h.01M131.7 192.5h.01M129.4 189.1h.01M155.6 188.6h.01M139.2 171.0h.01M142.9 184.9h.01M135.7 167.3h.01M143.4 187.8h.01M130.2 185.5h.01M148.2 163.4h.01M128.9 193.0h.01M173.4 193.5h.01M151.5 191.4h.01M141.2 188.3h.01M145.0 185.8h.01M134.0 189.2h.01M132.7 173.8h.01M146.0 179.1h.01M139.0 185.8h.01M134.7 183.6h.01M135.3 187.8h.01M131.8 174.5h.01M146.7 178.2h.01M146.0 171.8h.01M159.1 173.8h.01M145.4 181.0h.01M140.5 192.7h.01M136.8 180.8h.01M139.3 186.7h.01M134.4 164.3h.01M144.4 180.5h.01M146.0 193.2h.01M135.0 186.4h.01M139.1 183.7h.01M155.5 179.5h.01M157.3 191.1h.01" stroke="#e8123e" stroke-width="1.80" stroke-linecap="round" opacity="1.0" fill="none"/>
<path d="M147.8 33.6h.01M151.6 94.1h.01M147.8 101.4h.01M138.4 114.5h.01M145.6 126.4h.01M148.9 129.4h.01M156.0 139.3h.01M145.9 146.4h.01M146.9 146.4h.01M137.5 153.2h.01M139.3 157.0h.01M142.6 157.0h.01M154.0 156.2h.01M136.3 161.3h.01M138.3 163.3h.01M152.7 163.3h.01" stroke="#e8123e" stroke-width="1.80" stroke-linecap="round" opacity="1.0" fill="none"/>
<path d="M53.0 187.4h.01M89.2 182.6h.01M202.3 181.8h.01M189.9 196.9h.01" stroke="#555" stroke-width="1.60" stroke-linecap="round" opacity="1.0" fill="none"/>
<line x1="46.0" y1="194.2" x2="209.6" y2="194.2" stroke="#333" stroke-width="1.0" stroke-dasharray="3,2.4,1.2,2.4"/>
<rect x="262.50" y="25.50" width="169.50" height="179.50" fill="none" stroke="#7c7c7c" stroke-width="1.3" />
<line x1="292.3" y1="205.0" x2="292.3" y2="208.5" stroke="#7c7c7c" stroke-width="1.0" />
<text x="292.3" y="216.6" font-family="Liberation Sans" font-size="9.0" fill="#a4a4a4" text-anchor="middle" >-2.5</text>
<line x1="338.4" y1="205.0" x2="338.4" y2="208.5" stroke="#7c7c7c" stroke-width="1.0" />
<text x="338.4" y="216.6" font-family="Liberation Sans" font-size="9.0" fill="#a4a4a4" text-anchor="middle" >0.0</text>
<line x1="384.5" y1="205.0" x2="384.5" y2="208.5" stroke="#7c7c7c" stroke-width="1.0" />
<text x="384.5" y="216.6" font-family="Liberation Sans" font-size="9.0" fill="#a4a4a4" text-anchor="middle" >2.5</text>
<line x1="430.5" y1="205.0" x2="430.5" y2="208.5" stroke="#7c7c7c" stroke-width="1.0" />
<text x="430.5" y="216.6" font-family="Liberation Sans" font-size="9.0" fill="#a4a4a4" text-anchor="middle" >5.0</text>
<line x1="258.0" y1="82.7" x2="262.5" y2="82.7" stroke="#7c7c7c" stroke-width="1.0" />
<text x="255.5" y="85.9" font-family="Liberation Sans" font-size="9.0" fill="#a4a4a4" text-anchor="end" >26</text>
<line x1="258.0" y1="139.7" x2="262.5" y2="139.7" stroke="#7c7c7c" stroke-width="1.0" />
<text x="255.5" y="142.9" font-family="Liberation Sans" font-size="9.0" fill="#a4a4a4" text-anchor="end" >13</text>
<line x1="258.0" y1="190.9" x2="262.5" y2="190.9" stroke="#7c7c7c" stroke-width="1.0" />
<text x="255.5" y="194.1" font-family="Liberation Sans" font-size="9.0" fill="#a4a4a4" text-anchor="end" >1.3</text>
<line x1="258.0" y1="196.6" x2="262.5" y2="196.6" stroke="#7c7c7c" stroke-width="1.0" />
<text x="255.5" y="200.8" font-family="Liberation Sans" font-size="9.0" fill="#a4a4a4" text-anchor="end" >0</text>
<rect x="318.00" y="193.30" width="16.50" height="3.80" fill="#1f5cb4" stroke="none" stroke-width="1" />
<rect x="342.50" y="193.30" width="46.00" height="3.80" fill="#1f5cb4" stroke="none" stroke-width="1" />
<path d="M392.3 197.3h.01M352.1 192.9h.01M317.6 194.6h.01M344.4 192.3h.01M350.3 196.2h.01M334.6 192.5h.01M377.9 195.4h.01M365.1 195.6h.01M397.0 194.2h.01M335.6 195.3h.01M365.4 193.9h.01M306.7 194.8h.01M358.2 194.6h.01M363.5 193.2h.01M316.2 193.9h.01M318.0 192.8h.01M381.7 194.0h.01M335.7 193.8h.01M329.1 196.4h.01M354.0 193.6h.01M308.9 196.4h.01M382.5 193.5h.01M353.6 197.2h.01M358.5 197.3h.01M380.6 195.9h.01M397.3 196.5h.01M352.9 197.5h.01M374.4 194.1h.01M353.5 196.6h.01M323.8 194.5h.01M389.9 194.6h.01M389.0 196.6h.01M368.1 194.4h.01M368.7 196.7h.01M363.2 193.5h.01M328.1 194.4h.01M376.7 195.2h.01M354.1 196.7h.01M355.1 196.7h.01M323.3 197.3h.01M306.0 195.2h.01M322.0 195.2h.01M346.0 194.6h.01M371.3 192.2h.01M336.5 196.4h.01M367.5 193.1h.01M343.8 194.5h.01M368.3 195.1h.01M354.7 195.0h.01M328.4 197.1h.01M306.8 196.9h.01M348.8 196.4h.01M366.7 195.5h.01M327.7 193.9h.01M333.6 193.8h.01M340.8 196.6h.01M346.7 195.2h.01M324.1 193.7h.01M384.9 194.9h.01M355.7 194.6h.01M385.5 193.6h.01M384.8 193.5h.01M380.3 193.7h.01M334.9 193.0h.01M383.4 192.7h.01M373.3 194.3h.01M367.3 193.8h.01M306.0 197.1h.01M315.3 197.5h.01M316.6 192.3h.01M312.2 196.2h.01M370.3 195.3h.01M376.6 196.6h.01M359.5 195.4h.01M331.3 192.9h.01M341.5 193.9h.01M361.2 195.1h.01M385.6 194.6h.01M334.9 195.7h.01M374.0 197.2h.01M329.8 197.0h.01M336.8 196.4h.01M382.8 192.4h.01M375.3 195.1h.01M319.5 194.4h.01M381.9 195.4h.01M330.2 195.8h.01M343.4 193.1h.01M381.8 195.3h.01M396.7 195.1h.01M341.6 195.5h.01M391.7 197.5h.01M383.7 194.3h.01M301.5 194.3h.01M373.5 196.0h.01M366.2 193.7h.01M358.0 195.0h.01M353.3 192.9h.01M363.4 193.9h.01M361.3 196.3h.01M359.9 195.1h.01M318.1 194.1h.01M348.3 195.1h.01M378.7 193.8h.01M396.2 192.3h.01M356.1 197.1h.01M313.6 195.9h.01M366.0 192.8h.01M382.4 192.6h.01M306.3 196.5h.01M325.8 195.3h.01M399.2 195.7h.01M318.1 196.2h.01M372.6 192.6h.01M381.7 193.2h.01M320.2 192.5h.01M365.6 193.0h.01M397.5 192.2h.01M375.4 195.3h.01M356.3 196.5h.01M362.9 193.0h.01M379.3 194.1h.01M357.5 195.0h.01M390.2 194.4h.01M306.3 194.0h.01M360.4 196.7h.01M319.2 196.5h.01M379.2 193.0h.01M312.3 195.3h.01M360.6 194.5h.01M349.7 196.6h.01M351.3 195.1h.01M358.5 197.2h.01M379.6 196.7h.01M325.2 195.4h.01M382.0 196.1h.01M349.8 194.1h.01M318.9 194.9h.01M323.3 194.2h.01M388.3 194.7h.01M354.1 193.5h.01M301.9 195.4h.01M377.1 196.2h.01M313.6 195.2h.01M375.4 194.6h.01M373.3 194.7h.01M377.5 194.0h.01M307.4 194.5h.01M378.8 194.4h.01M366.0 194.2h.01M372.7 193.1h.01M387.8 197.3h.01M300.4 196.8h.01M368.7 192.8h.01M372.8 196.4h.01M361.9 197.4h.01M394.6 195.6h.01M312.7 193.8h.01M351.3 197.3h.01M362.9 195.6h.01M361.4 197.3h.01M359.2 194.4h.01M332.6 193.0h.01M392.5 196.4h.01M384.4 193.7h.01M398.5 194.5h.01M323.1 192.7h.01M362.0 195.9h.01M324.1 197.2h.01M397.3 195.9h.01M374.1 196.2h.01M332.6 195.1h.01M358.0 196.8h.01M378.7 192.8h.01M342.4 196.9h.01M334.2 192.7h.01M366.3 194.0h.01M356.3 196.2h.01M344.5 196.2h.01M361.2 196.8h.01M375.8 197.1h.01M374.1 193.7h.01M349.5 196.4h.01M378.0 196.1h.01M384.0 196.7h.01M353.2 195.7h.01M302.5 194.8h.01M391.2 196.8h.01M321.4 197.0h.01M365.0 193.2h.01M309.2 197.5h.01M375.4 196.6h.01M324.1 195.0h.01M315.6 195.5h.01M378.6 192.8h.01M319.0 194.3h.01M298.2 194.4h.01M386.3 193.2h.01M382.8 193.4h.01M322.4 195.6h.01M328.0 193.3h.01M391.0 192.4h.01M319.6 196.1h.01M347.4 195.6h.01M376.8 192.9h.01M323.3 193.0h.01M306.8 196.8h.01M348.6 194.9h.01M380.7 192.4h.01M349.6 195.6h.01M384.6 192.2h.01M357.2 192.4h.01M374.9 197.4h.01M354.0 195.8h.01M383.2 196.8h.01M381.6 194.8h.01M306.9 196.5h.01M369.5 193.9h.01M378.2 193.4h.01M322.6 197.1h.01M356.3 195.9h.01M350.2 193.4h.01M325.2 194.3h.01M307.7 196.6h.01M372.4 192.5h.01M374.0 197.2h.01M324.4 193.1h.01M332.7 196.8h.01M377.6 193.0h.01M390.0 196.2h.01M397.2 193.1h.01M321.8 193.4h.01M334.5 194.7h.01M391.6 195.3h.01M371.4 193.2h.01M379.9 196.3h.01M381.1 194.6h.01M353.3 192.6h.01M344.8 195.7h.01M375.1 196.8h.01M387.1 192.3h.01M355.9 194.7h.01M388.0 195.6h.01M314.9 192.4h.01M377.9 194.2h.01M320.8 195.2h.01M317.9 195.0h.01M330.5 195.9h.01M323.4 194.0h.01M355.5 197.3h.01M313.3 193.9h.01M330.1 194.8h.01M381.7 193.2h.01M371.3 194.5h.01M356.3 194.9h.01M359.5 193.2h.01M360.8 194.4h.01M378.0 195.4h.01M339.6 197.5h.01M316.3 192.3h.01M368.4 192.7h.01M373.0 192.7h.01M328.3 195.6h.01M300.1 194.5h.01M372.2 194.3h.01M390.7 195.3h.01M333.1 194.3h.01M369.5 196.3h.01M368.6 193.0h.01M341.0 193.9h.01M321.6 192.8h.01M374.3 193.0h.01M334.1 192.3h.01M369.9 195.6h.01M306.0 197.3h.01M374.5 196.6h.01M369.8 192.3h.01M325.9 193.5h.01M334.9 196.2h.01M321.9 193.7h.01M309.7 193.5h.01M348.0 196.2h.01M386.5 195.8h.01M334.8 197.4h.01M306.2 194.4h.01M367.6 194.1h.01M382.4 196.3h.01M371.8 193.6h.01M367.4 195.7h.01M383.7 195.0h.01M357.0 193.3h.01M361.0 194.0h.01M383.3 194.2h.01M358.1 193.5h.01M336.3 194.6h.01M370.6 194.9h.01M314.4 195.7h.01M351.6 194.6h.01M386.4 195.7h.01M365.5 194.9h.01M367.2 194.6h.01M344.6 193.3h.01M321.8 194.6h.01M327.6 193.6h.01M348.1 196.3h.01M389.2 195.6h.01M397.2 195.9h.01M383.9 192.4h.01M317.9 196.5h.01M389.8 192.6h.01M361.3 194.4h.01M382.6 195.1h.01M344.9 193.2h.01M378.0 193.0h.01M328.6 192.7h.01M345.9 194.1h.01M321.6 195.1h.01M331.9 192.5h.01M365.2 195.4h.01M323.4 195.1h.01M325.1 193.7h.01M344.2 192.4h.01M321.5 197.5h.01M376.6 194.0h.01M399.7 194.0h.01M330.9 197.0h.01M344.1 196.9h.01M312.0 194.3h.01M377.7 196.9h.01M328.8 194.5h.01M390.3 195.7h.01M331.7 193.9h.01M300.0 193.7h.01M375.8 192.4h.01M350.0 196.1h.01M345.2 193.0h.01M388.7 192.3h.01M381.5 197.0h.01M386.3 194.2h.01M361.9 194.7h.01M357.7 194.3h.01M385.2 193.9h.01M355.2 192.6h.01M336.2 197.5h.01M371.7 193.0h.01M353.4 194.8h.01M359.7 193.7h.01M326.1 197.3h.01M358.8 195.2h.01M368.6 196.3h.01M316.3 196.4h.01M313.3 193.9h.01M384.2 197.1h.01M349.1 195.6h.01M352.6 194.1h.01M381.1 192.7h.01M326.6 194.6h.01M319.6 194.6h.01M342.9 195.1h.01M364.5 195.9h.01M332.0 194.7h.01M384.9 192.3h.01M380.6 193.0h.01M373.5 196.8h.01M327.3 194.6h.01M366.8 197.4h.01M387.4 192.5h.01M357.5 194.9h.01M353.6 194.1h.01M390.8 193.8h.01M363.2 192.3h.01M322.8 196.6h.01M384.9 194.0h.01M372.9 196.6h.01M364.3 195.6h.01M374.9 193.9h.01M331.8 193.6h.01M321.6 195.0h.01M353.0 193.2h.01M313.9 195.6h.01M352.5 195.7h.01M374.2 196.3h.01M313.1 193.9h.01M370.0 193.1h.01M353.7 196.6h.01M312.9 194.2h.01M316.1 193.2h.01M361.6 194.8h.01M344.8 192.5h.01M363.4 193.6h.01M343.0 197.2h.01M348.6 194.3h.01M334.0 193.7h.01M361.0 196.1h.01M309.8 192.2h.01M314.9 195.4h.01M349.4 194.8h.01M332.4 195.8h.01M322.5 193.5h.01M370.5 195.1h.01M328.2 195.1h.01M344.6 196.3h.01M309.9 196.0h.01M356.6 192.4h.01M395.0 192.3h.01M380.1 194.3h.01M381.1 193.1h.01M377.0 195.3h.01M384.8 196.5h.01M378.3 196.9h.01M323.9 192.4h.01M315.5 196.2h.01M348.3 194.8h.01M357.7 194.9h.01M388.2 194.8h.01M379.4 193.0h.01M382.2 195.6h.01M331.9 193.0h.01M350.5 193.8h.01M389.8 196.3h.01M391.2 193.5h.01M345.8 195.9h.01M308.1 192.5h.01M353.8 196.0h.01M324.7 192.3h.01M399.1 195.1h.01M352.9 192.6h.01M308.5 193.5h.01M381.2 193.8h.01M343.5 197.4h.01M349.6 193.9h.01M351.9 193.1h.01M356.1 192.6h.01M351.1 192.8h.01M314.3 194.4h.01M334.8 193.7h.01M347.0 197.0h.01M360.8 194.8h.01M362.0 194.1h.01M347.7 196.5h.01M376.8 195.8h.01M298.2 196.5h.01M311.3 193.0h.01M368.9 194.7h.01M353.1 195.9h.01M382.1 197.5h.01M370.0 194.9h.01M332.5 194.5h.01M362.1 197.5h.01M332.0 196.0h.01M340.1 197.1h.01M349.1 196.3h.01M357.5 196.1h.01M375.0 194.3h.01M343.5 195.6h.01M370.9 195.4h.01M334.7 194.8h.01M350.0 194.3h.01M330.8 192.6h.01M336.0 197.4h.01M338.9 197.1h.01M368.2 197.2h.01M364.5 197.4h.01M380.1 192.6h.01M364.7 197.3h.01M358.2 196.0h.01M337.6 196.8h.01M388.5 196.9h.01M344.4 194.5h.01M346.8 195.0h.01M320.2 194.2h.01M346.9 192.3h.01M356.3 192.5h.01M355.1 192.5h.01M316.9 194.7h.01M398.8 196.3h.01M342.4 195.0h.01M353.8 197.4h.01M384.5 192.3h.01M368.4 196.1h.01M388.9 197.2h.01M317.6 196.9h.01M382.7 193.9h.01M375.9 192.3h.01M348.8 193.9h.01M328.6 197.5h.01M399.3 194.4h.01M354.3 195.3h.01M362.0 193.6h.01M359.7 193.1h.01M392.0 193.4h.01M329.4 196.1h.01M332.5 196.0h.01M316.4 193.4h.01M361.1 193.3h.01M333.2 193.8h.01M320.8 195.4h.01M320.2 194.0h.01M312.4 193.6h.01M327.3 197.4h.01M350.5 193.9h.01M365.6 193.5h.01M387.7 194.1h.01M356.2 194.1h.01M375.2 195.3h.01M348.8 193.1h.01M305.9 193.6h.01M318.3 197.3h.01M348.6 194.1h.01M383.2 195.8h.01M345.2 196.4h.01M301.5 193.1h.01M350.8 195.9h.01M359.7 196.7h.01M323.7 193.2h.01M327.5 196.9h.01M349.4 196.3h.01M376.8 194.0h.01M373.2 196.5h.01M350.0 195.0h.01M346.0 194.7h.01M319.5 195.3h.01M385.4 193.6h.01M328.2 197.2h.01M372.3 192.7h.01M350.7 194.1h.01M359.4 194.1h.01M367.1 192.8h.01M350.8 194.6h.01M363.2 192.5h.01M378.3 195.0h.01M323.7 193.1h.01M381.0 192.3h.01M357.8 193.9h.01M333.0 197.4h.01M302.5 195.9h.01M315.2 195.4h.01M316.1 193.0h.01M303.3 195.3h.01M387.8 192.8h.01M354.8 194.9h.01M344.0 193.2h.01M359.8 193.0h.01M367.6 192.7h.01M346.8 192.3h.01M381.5 197.5h.01M329.0 193.7h.01M326.4 195.8h.01M351.8 195.2h.01M360.4 193.6h.01M351.0 195.1h.01M361.9 195.7h.01M358.5 193.1h.01M353.5 196.0h.01M325.0 194.7h.01M319.1 194.4h.01M332.8 193.2h.01M388.0 197.2h.01M322.4 195.8h.01M382.3 194.2h.01M367.8 192.9h.01M340.1 195.3h.01M316.8 192.8h.01M385.4 193.3h.01M346.2 195.5h.01M316.9 194.2h.01M378.7 195.2h.01M361.9 192.2h.01M322.1 194.1h.01M303.8 194.6h.01M365.9 195.5h.01M350.2 196.7h.01M322.7 193.8h.01M322.3 193.8h.01M386.6 194.7h.01M391.0 194.8h.01M360.9 192.4h.01M346.9 194.1h.01M347.3 194.4h.01M365.7 195.7h.01M380.5 193.2h.01M324.4 194.0h.01M319.7 193.9h.01M381.8 192.2h.01M322.7 196.1h.01M306.8 195.4h.01M344.9 196.0h.01M355.3 197.0h.01M396.9 195.4h.01M369.9 196.7h.01M340.3 196.8h.01M381.5 194.0h.01M353.4 197.5h.01M372.9 193.4h.01M347.0 192.6h.01M325.4 196.5h.01M316.2 195.5h.01M341.0 195.7h.01M375.6 196.8h.01M304.7 194.5h.01M325.8 196.6h.01M302.8 195.8h.01M377.2 194.0h.01M392.5 192.2h.01M310.7 196.9h.01M352.5 193.1h.01M350.0 193.4h.01M354.0 195.8h.01M317.0 197.3h.01M333.8 194.5h.01M381.8 195.3h.01M357.9 194.4h.01M358.5 192.2h.01M315.8 196.7h.01M355.3 195.8h.01M342.4 194.1h.01M357.5 196.4h.01M390.6 193.6h.01M342.9 196.2h.01M386.9 197.5h.01M366.3 195.5h.01M361.2 195.3h.01M301.9 197.0h.01M368.2 193.5h.01M328.9 195.2h.01M332.0 195.1h.01M364.7 195.4h.01M331.1 197.6h.01M324.0 195.2h.01M334.0 195.7h.01M386.7 194.3h.01M350.6 192.8h.01M369.2 196.3h.01M377.4 194.0h.01M378.5 195.0h.01M321.8 196.0h.01M320.1 197.3h.01M381.4 192.3h.01M368.4 194.6h.01M300.6 193.1h.01M324.5 196.9h.01M366.5 193.8h.01M354.9 196.0h.01M354.2 193.2h.01M314.6 196.7h.01M332.3 195.5h.01M378.2 195.7h.01M356.5 196.5h.01M329.9 193.9h.01M343.1 192.8h.01M383.8 195.7h.01M369.7 195.8h.01M376.5 194.6h.01M324.7 193.4h.01M309.6 197.4h.01M362.8 195.5h.01M342.0 195.0h.01M306.8 197.3h.01M348.6 192.2h.01M365.7 194.0h.01M371.7 193.0h.01M381.9 193.9h.01M390.5 196.1h.01M396.8 195.7h.01M380.8 195.8h.01M341.6 195.9h.01M394.4 195.8h.01M363.2 194.4h.01M349.2 194.6h.01M320.4 194.0h.01M368.8 194.4h.01M329.5 195.4h.01M329.9 193.2h.01M379.3 194.6h.01M368.3 192.4h.01M315.7 194.0h.01M350.9 197.5h.01M309.6 196.9h.01M331.0 197.2h.01M326.1 196.0h.01M331.7 195.0h.01M362.2 196.8h.01M331.0 192.6h.01M326.6 196.2h.01M332.6 194.7h.01M364.7 194.4h.01M388.1 194.4h.01M387.1 192.5h.01M337.1 195.8h.01M365.3 194.6h.01M342.6 197.1h.01M389.7 193.6h.01M335.5 196.0h.01M312.3 194.6h.01M310.3 193.4h.01M357.1 197.3h.01M319.0 194.7h.01M359.5 196.6h.01M332.1 192.4h.01M360.5 197.3h.01M310.0 197.4h.01M365.7 194.5h.01M365.9 193.9h.01M360.5 192.7h.01M385.9 196.5h.01M335.0 195.7h.01M388.9 195.9h.01M307.0 194.6h.01M305.3 196.5h.01M310.7 195.0h.01M379.4 195.2h.01M383.2 196.3h.01M348.9 193.3h.01M383.3 193.2h.01M303.1 196.5h.01M314.5 193.8h.01M355.7 196.8h.01M347.1 193.2h.01M376.0 194.4h.01M325.3 193.0h.01M323.6 192.9h.01M316.2 196.0h.01M375.0 192.3h.01M329.3 193.0h.01M353.1 194.8h.01M374.4 194.5h.01M384.9 192.5h.01M358.9 192.5h.01M332.7 197.1h.01M322.1 192.5h.01M313.2 195.5h.01M310.3 197.2h.01M310.3 193.2h.01M378.1 196.9h.01M316.9 196.9h.01M356.1 196.4h.01M352.8 196.2h.01M325.5 196.1h.01M386.8 194.8h.01M374.3 196.6h.01M298.8 195.6h.01M328.3 197.4h.01M378.1 193.2h.01M317.1 196.7h.01M367.5 193.1h.01M390.6 194.1h.01M322.5 195.7h.01M375.8 196.8h.01M347.5 194.3h.01M304.2 193.9h.01M355.2 196.0h.01M356.7 194.7h.01M331.0 197.5h.01M348.4 194.9h.01M378.3 197.5h.01M366.3 192.4h.01M374.2 193.6h.01M319.4 197.5h.01M346.8 194.6h.01M355.7 195.5h.01M324.0 192.5h.01M320.7 195.4h.01M346.2 197.4h.01M381.8 194.1h.01M329.6 194.9h.01M326.1 194.1h.01M364.5 193.4h.01M394.6 197.0h.01M371.4 197.6h.01M346.8 194.5h.01M364.2 196.4h.01M342.9 193.4h.01M306.9 194.4h.01M387.0 193.9h.01M306.9 196.1h.01M353.9 196.1h.01M331.7 193.9h.01M310.0 192.8h.01M381.4 195.3h.01M353.7 195.0h.01M379.5 192.7h.01M320.1 193.0h.01M329.3 196.6h.01M377.5 194.3h.01M332.8 197.3h.01M361.8 193.9h.01M309.9 193.8h.01M347.2 195.1h.01M392.5 195.7h.01M347.5 196.5h.01M362.7 194.5h.01M336.4 196.2h.01M364.5 194.1h.01M371.2 196.7h.01M356.2 192.4h.01M334.1 193.4h.01M307.9 195.5h.01M383.8 196.6h.01M323.7 196.2h.01M327.8 194.1h.01M376.5 192.3h.01M361.0 193.9h.01M346.1 193.4h.01M318.5 197.4h.01M345.4 193.3h.01M364.2 197.0h.01M348.4 195.4h.01M381.7 197.0h.01M345.6 195.3h.01M313.4 193.0h.01M322.7 195.1h.01M320.3 192.8h.01M325.1 194.5h.01M323.0 197.2h.01M328.1 197.1h.01M365.1 197.1h.01M345.2 192.3h.01M365.9 193.3h.01M339.9 196.2h.01M359.4 193.8h.01M313.5 195.3h.01M398.8 196.5h.01M316.2 194.2h.01M310.3 194.8h.01M328.3 193.2h.01M325.1 193.3h.01M387.3 192.2h.01M391.0 196.4h.01M355.0 192.8h.01M369.7 192.8h.01M396.8 194.4h.01M396.4 197.1h.01M360.9 194.2h.01M352.1 196.3h.01M330.3 197.3h.01M360.8 197.2h.01M313.2 194.9h.01M328.3 195.2h.01M348.9 194.2h.01M324.6 195.0h.01M303.1 194.6h.01M308.7 192.5h.01M317.1 192.5h.01M322.5 194.1h.01M356.4 193.7h.01M388.2 194.5h.01M365.7 195.2h.01M374.3 193.8h.01M315.2 194.7h.01M346.6 194.8h.01M389.4 196.8h.01M370.9 195.9h.01M385.7 195.7h.01M397.2 193.5h.01M319.1 196.2h.01M342.5 196.7h.01M360.6 193.8h.01M380.1 193.2h.01M372.8 195.6h.01M373.9 196.9h.01M312.1 196.9h.01M379.6 197.4h.01M358.4 196.4h.01M348.3 197.3h.01M348.7 195.1h.01M332.3 196.1h.01M365.4 195.0h.01M329.3 192.6h.01M371.6 193.5h.01M344.2 194.5h.01M356.2 197.3h.01M379.5 197.0h.01M325.8 195.7h.01M366.8 196.3h.01M340.5 197.2h.01M347.1 196.9h.01M346.3 196.1h.01M320.6 193.4h.01M353.0 195.6h.01M349.6 196.8h.01M385.7 194.5h.01M382.2 193.7h.01M366.7 196.1h.01M345.0 197.0h.01M335.9 194.7h.01M394.3 193.2h.01M392.5 196.9h.01M311.9 195.3h.01M307.5 196.2h.01M342.7 195.3h.01M333.3 194.0h.01M306.2 196.2h.01M327.9 193.8h.01M305.4 197.2h.01M352.2 194.2h.01M313.9 193.1h.01M345.2 194.1h.01M353.0 193.3h.01M382.4 195.5h.01M348.7 194.6h.01M319.2 197.5h.01M369.8 194.2h.01M360.9 195.7h.01M307.1 195.0h.01M328.5 194.3h.01M364.4 195.7h.01M389.6 193.3h.01M387.1 192.7h.01M314.2 194.2h.01M323.1 195.3h.01M369.4 193.9h.01M312.6 197.5h.01M306.1 192.8h.01M342.4 197.3h.01M374.2 192.6h.01M375.1 197.4h.01M392.0 196.5h.01M327.3 192.3h.01M351.0 194.4h.01M378.6 197.3h.01M383.1 192.5h.01M334.1 194.5h.01M391.1 195.9h.01M371.0 197.5h.01M298.9 192.5h.01M329.6 196.9h.01M360.8 192.5h.01M396.6 193.1h.01M388.8 195.1h.01M374.4 193.3h.01M342.6 192.7h.01M384.0 194.0h.01M348.9 196.3h.01M331.3 196.6h.01M380.4 194.7h.01M375.3 193.8h.01M353.8 195.6h.01M303.8 195.4h.01M358.6 192.7h.01M344.0 196.6h.01M392.7 197.2h.01M347.0 195.8h.01M385.1 196.6h.01M374.6 194.8h.01M318.6 193.4h.01M374.7 193.9h.01M305.4 195.8h.01M367.5 194.8h.01M322.3 197.4h.01M349.3 195.3h.01M365.1 192.3h.01M316.0 194.0h.01M341.4 196.2h.01M387.4 196.4h.01M383.8 194.9h.01M385.8 192.6h.01M349.1 196.7h.01M330.3 196.7h.01M373.6 193.6h.01M367.8 192.7h.01M341.6 195.2h.01M313.7 193.8h.01M354.6 195.4h.01M360.6 192.3h.01M390.8 192.4h.01M308.3 193.5h.01M314.6 194.4h.01M328.0 196.8h.01M309.9 194.0h.01M323.5 193.6h.01M340.2 195.2h.01M342.6 196.8h.01M383.9 196.0h.01M344.5 197.2h.01M327.6 194.5h.01M307.2 194.5h.01M322.8 194.8h.01M377.6 193.7h.01M312.4 192.6h.01M323.8 196.8h.01M314.6 194.9h.01M317.3 197.0h.01M359.8 194.2h.01M318.8 192.7h.01M328.0 193.0h.01M366.1 196.1h.01M396.0 193.1h.01M382.4 197.0h.01M365.9 196.5h.01M384.1 192.5h.01M374.6 196.8h.01M393.6 195.6h.01M336.3 195.2h.01M383.0 196.0h.01M343.0 196.0h.01M335.6 197.6h.01M322.9 193.4h.01M372.3 197.0h.01M360.4 193.7h.01M325.8 195.0h.01M341.3 197.6h.01M336.5 196.1h.01M331.5 192.4h.01M369.2 194.2h.01M316.7 194.1h.01M352.5 194.6h.01M348.8 194.5h.01M385.5 192.9h.01M328.7 192.5h.01M387.1 193.9h.01M375.7 192.3h.01M374.4 192.8h.01M332.1 194.2h.01M353.6 196.6h.01M392.1 196.2h.01M391.3 194.2h.01M304.8 194.9h.01M305.2 195.0h.01M343.7 193.6h.01M326.1 194.9h.01M331.5 193.5h.01M320.0 194.4h.01M385.5 195.0h.01M320.2 194.7h.01M314.4 193.3h.01M388.4 196.7h.01M389.3 197.1h.01M318.7 193.7h.01M379.3 193.6h.01M380.6 197.3h.01M308.2 194.3h.01M322.4 192.9h.01M368.7 196.4h.01M320.0 196.0h.01M341.0 194.4h.01M335.2 193.4h.01M321.2 192.7h.01M301.8 192.8h.01M363.3 194.1h.01M393.5 192.5h.01M396.6 197.1h.01M366.7 195.9h.01M384.5 192.7h.01M344.4 194.4h.01M390.7 197.4h.01M375.3 193.4h.01M320.4 195.2h.01M300.7 192.4h.01M327.0 194.9h.01M394.9 193.2h.01M355.1 196.0h.01M376.6 196.6h.01M371.3 193.5h.01M315.8 193.1h.01M385.6 197.3h.01M334.7 196.3h.01M346.7 195.1h.01M390.6 193.7h.01M299.8 196.4h.01M361.9 197.1h.01M345.7 194.8h.01M379.3 193.2h.01M387.6 195.7h.01M384.7 196.3h.01M354.9 195.7h.01M371.0 195.9h.01M373.1 194.1h.01M332.8 195.0h.01M322.1 192.3h.01M350.0 193.8h.01M305.1 195.3h.01M359.4 196.4h.01M367.2 195.2h.01M355.7 192.3h.01M305.7 197.2h.01M303.3 196.9h.01M361.9 194.5h.01M327.4 192.9h.01M318.8 192.7h.01M358.1 192.5h.01M385.6 197.4h.01M361.9 197.3h.01M363.6 194.3h.01M362.2 194.6h.01M394.0 192.3h.01M331.0 196.8h.01M323.8 195.7h.01M309.9 194.5h.01M333.3 194.5h.01M302.8 196.8h.01M358.0 196.0h.01M340.3 195.4h.01M313.7 192.8h.01M335.1 192.8h.01M334.3 195.7h.01M389.9 194.4h.01M399.2 193.4h.01M307.6 196.0h.01M358.4 192.5h.01M308.6 193.2h.01M309.6 195.9h.01M369.8 194.9h.01M331.4 195.5h.01M328.4 197.4h.01M380.2 196.7h.01M374.4 194.0h.01M378.6 196.0h.01M374.4 197.3h.01M299.6 192.6h.01M373.1 196.0h.01M302.3 196.6h.01M345.1 197.3h.01M300.6 194.1h.01M341.7 197.3h.01M321.2 197.0h.01M363.5 195.7h.01M391.2 192.7h.01M306.1 194.2h.01M370.2 196.0h.01M313.9 197.2h.01M370.8 194.8h.01M324.0 195.8h.01M353.7 194.6h.01M383.3 194.4h.01M359.1 197.5h.01M392.0 192.5h.01M306.1 192.3h.01M366.2 195.1h.01M346.7 193.1h.01M305.0 195.2h.01M332.7 193.1h.01M360.5 194.9h.01M394.5 195.7h.01M318.3 193.0h.01M345.9 192.8h.01M378.8 196.4h.01M360.4 193.2h.01M372.4 194.8h.01M367.5 195.6h.01M311.6 193.9h.01M365.7 194.3h.01M351.0 197.0h.01M367.1 192.8h.01M388.3 193.6h.01M336.6 196.0h.01M321.8 193.9h.01M360.3 194.5h.01M361.6 196.9h.01M351.6 193.5h.01M384.7 192.9h.01M352.1 196.4h.01M361.6 194.2h.01M370.5 197.5h.01M335.6 194.5h.01M354.7 196.4h.01M362.0 196.7h.01M383.2 195.0h.01M347.3 193.3h.01M335.7 194.1h.01M387.7 197.4h.01M393.8 195.2h.01M388.5 197.5h.01M341.8 193.4h.01M377.3 192.3h.01M377.9 192.4h.01M349.4 192.7h.01M368.5 194.8h.01M351.1 192.5h.01M325.9 193.9h.01M354.2 197.5h.01M353.7 195.0h.01M345.0 196.3h.01M370.0 196.6h.01M337.6 196.5h.01M333.2 192.5h.01M375.7 197.1h.01M343.4 196.4h.01M364.8 194.3h.01M387.9 194.0h.01M369.5 197.5h.01M388.8 196.5h.01M332.3 196.7h.01M344.2 192.7h.01M313.9 193.6h.01M360.6 196.4h.01M304.2 197.3h.01M380.1 194.8h.01M301.2 192.3h.01M361.9 195.9h.01M365.8 195.5h.01M367.2 195.6h.01M321.7 192.7h.01M344.3 194.8h.01M301.2 196.8h.01M327.4 192.7h.01M355.6 192.4h.01M370.3 195.1h.01M347.4 192.5h.01M328.8 193.7h.01M375.6 193.0h.01M304.9 195.9h.01M305.8 196.5h.01M331.0 194.5h.01M366.9 192.6h.01M332.4 194.0h.01M349.9 195.8h.01M391.6 196.6h.01M308.0 194.4h.01M306.8 192.8h.01M365.8 193.5h.01M399.9 194.7h.01M380.7 192.6h.01M377.6 194.8h.01M306.0 194.4h.01M338.8 197.0h.01M372.6 193.8h.01M342.4 197.3h.01M360.4 193.0h.01M323.7 195.2h.01M326.4 197.5h.01M354.4 195.1h.01M363.0 192.9h.01M367.9 195.1h.01M358.5 192.7h.01M350.1 196.2h.01M330.7 194.4h.01M389.0 192.6h.01M361.0 192.8h.01M343.1 197.4h.01M352.7 194.1h.01M325.0 194.0h.01M343.7 194.1h.01M349.9 195.6h.01M372.1 196.6h.01M320.8 192.4h.01M347.9 194.6h.01M314.3 194.9h.01M359.0 194.0h.01M396.0 192.9h.01M380.5 194.7h.01M344.3 194.7h.01M332.9 193.6h.01M335.2 194.1h.01M379.9 195.7h.01M389.5 197.5h.01M353.0 194.2h.01M292.4 194.7h.01M410.5 197.2h.01M295.9 196.4h.01M291.1 196.6h.01M402.8 194.0h.01M282.4 196.6h.01M286.1 196.7h.01M270.5 197.1h.01M400.3 196.3h.01M287.8 194.8h.01M289.1 195.1h.01M293.9 195.4h.01M287.7 195.0h.01M398.2 197.1h.01M410.2 195.6h.01M279.2 194.8h.01M412.2 195.2h.01M273.7 194.8h.01M293.5 196.1h.01M404.8 195.5h.01M296.4 195.0h.01M397.0 196.4h.01M276.2 195.1h.01M398.6 197.0h.01M394.3 196.2h.01M287.7 195.9h.01M293.8 196.9h.01M397.6 195.8h.01M286.2 195.0h.01M401.2 196.3h.01M285.3 196.3h.01M401.4 193.7h.01M400.5 195.2h.01M288.2 195.6h.01M406.3 193.6h.01M272.8 195.9h.01M276.8 195.1h.01M285.6 195.8h.01M280.5 197.0h.01M272.4 196.0h.01M405.2 194.1h.01M277.0 196.5h.01M411.3 195.2h.01M282.3 196.0h.01M396.7 195.6h.01M406.6 196.7h.01M279.4 195.9h.01M401.5 193.7h.01M277.1 196.8h.01M408.2 194.9h.01M276.5 195.1h.01M273.0 195.2h.01M294.2 195.6h.01M285.7 194.9h.01M289.7 195.5h.01M291.6 197.0h.01M296.5 195.6h.01M409.9 195.5h.01M276.9 194.9h.01M269.3 194.7h.01M278.3 197.1h.01M411.8 196.1h.01M274.4 196.8h.01M274.6 197.3h.01M402.8 193.8h.01M270.8 196.0h.01M296.2 195.9h.01M278.2 195.3h.01" stroke="#1f5cb4" stroke-width="1.80" stroke-linecap="round" opacity="1.0" fill="none"/>
<path d="M331.4 188.0h.01M322.5 189.2h.01M332.6 191.6h.01M334.8 192.2h.01M334.0 185.5h.01M322.4 188.4h.01M330.0 192.4h.01M334.4 191.9h.01M331.2 180.8h.01M323.1 166.8h.01M334.3 191.3h.01M331.5 190.3h.01M333.3 182.5h.01M332.9 184.2h.01M327.3 184.2h.01M331.9 190.3h.01M327.2 175.3h.01M329.5 185.2h.01M332.0 187.0h.01M331.6 170.6h.01M333.1 188.5h.01M327.9 178.1h.01M323.5 171.1h.01M331.8 187.1h.01M330.1 184.6h.01M333.8 188.4h.01M327.8 166.7h.01M329.5 192.6h.01M323.8 192.2h.01M334.2 188.4h.01M326.6 186.4h.01M334.6 192.0h.01M328.0 192.0h.01M334.3 192.2h.01M331.0 174.7h.01M331.4 191.7h.01M333.8 185.9h.01M332.3 190.8h.01M324.4 184.5h.01M327.0 189.6h.01M329.2 188.3h.01M324.0 182.2h.01M326.2 163.6h.01M330.5 190.1h.01M333.3 184.1h.01M331.6 188.0h.01M333.4 189.8h.01M333.1 190.6h.01M334.1 192.5h.01M334.3 188.5h.01M312.2 192.8h.01M333.8 187.0h.01M328.2 189.4h.01M330.4 183.2h.01M330.5 189.3h.01M332.5 186.4h.01M322.5 188.6h.01M330.5 182.8h.01M331.5 176.9h.01M334.2 189.6h.01M329.5 177.6h.01M331.5 168.3h.01M331.5 183.1h.01M320.2 189.5h.01M331.1 191.5h.01M334.1 190.7h.01M327.6 179.8h.01M333.0 182.1h.01M307.8 187.9h.01M333.2 184.6h.01M322.9 190.6h.01M332.1 175.6h.01M332.7 185.5h.01M326.7 185.0h.01M329.7 159.3h.01M326.6 192.5h.01M334.3 187.4h.01M334.1 186.0h.01M329.8 186.2h.01M327.1 191.4h.01M328.2 171.2h.01M330.9 176.2h.01M334.4 192.6h.01M328.0 188.4h.01M332.6 186.9h.01M328.1 188.0h.01M330.7 192.5h.01M319.0 192.2h.01M333.3 192.4h.01M329.2 185.4h.01M332.7 179.7h.01M332.3 188.8h.01M334.1 188.5h.01M331.2 190.6h.01M331.2 192.8h.01M334.2 188.8h.01M326.2 184.6h.01M334.0 192.7h.01M332.9 187.0h.01M332.9 178.3h.01M333.5 187.6h.01M333.6 188.1h.01M319.0 168.6h.01M331.1 189.6h.01M332.0 183.9h.01M334.1 192.5h.01M326.8 192.6h.01M330.3 171.0h.01M324.0 185.0h.01M331.5 192.0h.01M332.0 178.3h.01M329.7 180.3h.01M330.8 175.6h.01M328.1 190.5h.01M333.0 186.9h.01M317.1 189.9h.01M330.4 188.8h.01M333.1 188.3h.01M327.7 182.4h.01M330.6 184.7h.01M334.0 191.2h.01M318.2 188.8h.01M331.5 192.5h.01M331.1 186.1h.01M334.3 187.7h.01M332.5 189.3h.01M332.4 184.6h.01M327.7 183.3h.01M332.1 184.8h.01M330.8 176.8h.01M329.1 185.8h.01M323.4 179.1h.01M325.5 189.3h.01M333.9 190.8h.01M329.4 190.8h.01M333.5 187.5h.01M332.8 181.4h.01M333.6 190.4h.01M332.6 186.2h.01M332.5 181.1h.01M331.8 171.4h.01M333.9 187.4h.01M326.4 192.7h.01M328.9 172.3h.01M333.6 185.3h.01M333.3 184.5h.01M331.7 174.4h.01M334.8 192.1h.01M331.1 192.4h.01M334.0 185.8h.01M331.2 185.3h.01M321.5 172.4h.01M331.6 177.8h.01M317.8 191.5h.01M333.5 192.2h.01M333.7 185.8h.01M332.8 184.3h.01M333.6 189.3h.01M325.8 187.6h.01M329.0 190.8h.01M328.7 180.2h.01M331.6 186.2h.01M333.5 186.1h.01M331.0 175.4h.01M333.1 191.5h.01M331.6 182.6h.01M330.1 192.6h.01M328.7 190.7h.01M333.6 187.8h.01M330.6 192.7h.01M331.8 183.5h.01M334.7 192.0h.01M322.6 192.4h.01M328.8 191.9h.01M328.0 192.4h.01M330.4 189.5h.01M331.2 192.5h.01M324.9 175.1h.01M331.8 191.1h.01M332.0 185.4h.01M334.4 188.4h.01M330.8 191.5h.01M320.7 191.7h.01M333.1 191.7h.01M332.7 185.6h.01M321.7 192.4h.01M333.7 190.0h.01M334.4 192.5h.01M332.5 184.9h.01M333.7 186.9h.01M331.8 180.6h.01M330.0 185.9h.01M332.0 192.6h.01M334.1 189.1h.01M326.3 189.4h.01M328.8 189.6h.01M321.6 191.3h.01M331.8 183.1h.01M331.1 185.3h.01M331.0 189.6h.01M329.5 182.8h.01M326.1 174.3h.01M333.6 192.7h.01M327.1 183.1h.01M328.8 179.2h.01M333.0 179.8h.01M327.9 190.3h.01M331.5 184.9h.01M327.7 187.8h.01M330.3 190.3h.01" stroke="#1a9a5c" stroke-width="1.90" stroke-linecap="round" opacity="1.0" fill="none"/>
<path d="M323.4 192.1h.01M319.6 158.9h.01M328.2 178.0h.01M319.8 175.9h.01M329.8 182.0h.01M321.5 182.5h.01M303.4 190.2h.01M331.1 168.3h.01M329.0 184.3h.01M321.1 186.6h.01M327.9 186.2h.01M332.4 191.4h.01M320.5 189.6h.01M320.2 181.4h.01M315.4 188.1h.01" stroke="#1a9a5c" stroke-width="1.80" stroke-linecap="round" opacity="1.0" fill="none"/>
<path d="M322.3 86.3h.01M314.4 130.1h.01M321.5 136.5h.01M322.8 137.7h.01M318.2 139.0h.01M326.6 142.8h.01M326.7 142.5h.01M325.6 147.4h.01M326.7 152.3h.01M320.2 161.3h.01M316.9 162.1h.01M310.3 166.2h.01M319.3 165.4h.01M329.2 162.1h.01M324.3 166.2h.01M328.4 167.9h.01M302.1 175.7h.01M302.1 180.2h.01M306.2 180.2h.01M304.6 183.9h.01M312.0 180.7h.01M314.4 187.5h.01M321.8 189.2h.01M318.5 186.7h.01" stroke="#1a9a5c" stroke-width="1.80" stroke-linecap="round" opacity="1.0" fill="none"/>
<path d="M347.5 192.4h.01M344.4 171.9h.01M359.9 180.8h.01M344.1 180.7h.01M349.9 178.3h.01M342.1 191.0h.01M346.7 189.2h.01M345.6 191.3h.01M345.3 186.4h.01M363.4 154.3h.01M343.2 189.5h.01M349.9 177.8h.01M352.5 188.5h.01M342.8 189.9h.01M343.0 187.8h.01M347.8 179.6h.01M354.0 188.1h.01M350.5 189.2h.01M347.8 192.4h.01M352.2 181.8h.01M349.9 174.2h.01M346.2 181.3h.01M344.4 184.8h.01M353.1 192.6h.01M343.8 191.9h.01M359.6 183.2h.01M344.3 184.0h.01M347.3 187.0h.01M348.8 183.4h.01M353.8 188.6h.01M360.5 174.8h.01M355.6 192.4h.01M342.2 190.0h.01M345.2 189.4h.01M342.2 190.5h.01M342.6 189.3h.01M345.3 192.1h.01M360.1 191.3h.01M346.7 184.3h.01M364.6 185.4h.01M344.2 178.0h.01M343.1 185.2h.01M344.3 191.2h.01M342.7 186.7h.01M344.8 185.1h.01M351.0 188.5h.01M342.8 191.7h.01M347.4 187.8h.01M343.8 191.1h.01M344.3 191.9h.01M350.4 187.8h.01M347.5 175.8h.01M342.5 190.4h.01M343.4 186.1h.01M348.0 191.2h.01M344.8 189.6h.01M350.5 186.3h.01M344.1 192.2h.01M343.5 188.8h.01M347.6 179.7h.01M344.7 168.3h.01M356.4 174.8h.01M347.8 170.6h.01M347.5 186.0h.01M344.4 187.0h.01M345.0 175.5h.01M349.8 190.1h.01M345.3 191.1h.01M342.4 189.8h.01M346.7 191.4h.01M353.4 187.3h.01M348.3 177.1h.01M350.6 188.6h.01M349.7 192.0h.01M343.1 179.1h.01M344.0 192.2h.01M342.6 188.9h.01M353.9 188.2h.01M342.6 189.3h.01M366.1 190.3h.01M349.7 178.4h.01M362.4 189.4h.01M345.7 185.3h.01M345.2 181.8h.01M342.4 185.4h.01M343.2 189.4h.01M343.5 182.9h.01M346.3 192.5h.01M342.9 188.4h.01M346.4 170.5h.01M346.4 190.7h.01M351.8 188.0h.01M343.8 188.2h.01M350.4 189.9h.01M343.6 188.3h.01M342.2 191.2h.01M348.6 182.5h.01M343.2 191.7h.01M344.5 188.5h.01M348.5 182.5h.01M349.0 192.3h.01M356.4 191.9h.01M344.9 189.4h.01M344.6 192.6h.01M343.6 192.4h.01M352.7 180.3h.01M353.8 191.6h.01M343.7 189.6h.01M352.5 180.3h.01M358.1 188.5h.01M364.5 183.5h.01M344.5 180.5h.01M354.6 189.2h.01M349.0 188.2h.01M342.6 192.2h.01M344.6 189.4h.01M348.0 190.5h.01M354.0 190.3h.01M343.3 192.5h.01M345.4 192.3h.01M342.6 185.8h.01M345.8 186.6h.01M353.9 182.9h.01M344.5 190.9h.01M349.9 187.2h.01M347.1 178.3h.01M355.3 191.9h.01M343.7 180.0h.01M354.8 189.2h.01M351.0 189.6h.01M351.6 186.9h.01M348.5 192.5h.01M344.0 184.0h.01M351.9 187.3h.01M342.4 189.5h.01M343.1 192.3h.01M347.3 192.0h.01M342.4 189.8h.01M344.5 191.9h.01M342.6 191.4h.01M347.4 191.1h.01M354.9 192.4h.01M350.8 190.6h.01M346.8 189.5h.01M360.0 181.6h.01M342.5 192.1h.01M344.4 189.0h.01M345.2 183.1h.01M351.9 188.8h.01M345.2 185.5h.01M342.5 187.0h.01M344.9 175.7h.01M343.4 188.0h.01M344.9 182.5h.01M349.1 168.9h.01M343.3 184.6h.01M350.3 186.4h.01M352.9 172.0h.01M347.4 192.2h.01M347.5 187.5h.01M343.5 191.6h.01M346.8 181.5h.01M347.9 186.9h.01M349.4 192.4h.01M346.7 187.0h.01M355.1 181.1h.01M344.6 185.3h.01M349.3 177.5h.01M346.4 191.6h.01M344.2 180.4h.01M344.6 186.5h.01M356.0 186.2h.01M343.7 192.6h.01M343.5 190.3h.01M348.5 179.6h.01M346.5 190.6h.01M351.7 172.1h.01M357.5 183.3h.01M346.3 161.8h.01M345.7 155.3h.01M342.2 192.5h.01M346.7 183.6h.01M348.0 179.9h.01M346.9 191.2h.01M345.6 191.1h.01M349.8 188.7h.01M345.3 191.0h.01M343.4 181.2h.01M346.9 189.0h.01M344.1 189.1h.01M344.6 192.3h.01M342.2 190.2h.01M345.2 182.4h.01M349.7 186.2h.01M344.7 191.3h.01M342.2 189.6h.01M350.5 188.9h.01M342.4 188.6h.01M355.9 185.2h.01M348.5 192.0h.01M346.0 190.6h.01M348.8 192.4h.01M348.9 191.3h.01M344.6 187.8h.01M342.6 190.9h.01M343.6 189.7h.01M349.0 192.0h.01M351.5 181.2h.01M357.4 186.3h.01M349.7 191.2h.01M346.5 182.6h.01M354.1 184.9h.01M342.7 189.4h.01M352.1 191.5h.01M370.4 190.8h.01M350.9 191.2h.01M343.6 189.3h.01M346.5 175.7h.01M364.2 188.6h.01M346.9 188.9h.01M349.4 192.3h.01M342.2 192.1h.01M350.4 189.0h.01M352.0 190.8h.01M342.4 187.0h.01M351.9 176.0h.01M346.7 191.2h.01M346.7 171.2h.01M343.7 182.1h.01M343.3 191.4h.01" stroke="#e8123e" stroke-width="1.90" stroke-linecap="round" opacity="1.0" fill="none"/>
<path d="M351.7 176.6h.01M357.8 177.2h.01M346.0 192.1h.01M343.6 186.8h.01M352.5 191.9h.01M343.2 190.0h.01M352.0 171.3h.01M344.0 189.0h.01M366.7 169.1h.01M357.1 173.0h.01M350.3 189.4h.01M354.2 187.3h.01M379.8 175.3h.01M373.2 182.2h.01M347.0 165.8h.01M348.5 175.2h.01M351.5 170.8h.01M349.1 178.5h.01M358.2 174.7h.01M349.6 188.4h.01M356.6 168.0h.01M349.8 186.8h.01M358.0 181.4h.01M359.5 183.5h.01M349.5 188.9h.01" stroke="#e8123e" stroke-width="1.80" stroke-linecap="round" opacity="1.0" fill="none"/>
<path d="M381.1 33.4h.01M357.8 61.2h.01M357.3 88.8h.01M355.2 103.8h.01M363.8 102.3h.01M364.9 108.9h.01M368.4 112.7h.01M363.8 116.7h.01M361.3 123.8h.01M359.5 125.8h.01M353.7 128.4h.01M358.3 130.9h.01M355.7 133.4h.01M359.0 140.3h.01M366.6 142.8h.01M363.3 144.1h.01M355.2 143.6h.01M419.1 139.5h.01M354.6 144.1h.01M359.5 145.7h.01M363.6 144.1h.01M366.9 143.0h.01M353.8 147.4h.01M356.2 149.8h.01M366.4 153.1h.01M378.4 151.8h.01M349.7 154.8h.01M356.2 154.8h.01M358.7 156.4h.01M348.0 158.0h.01M352.1 159.7h.01M355.4 160.5h.01M362.0 160.5h.01M369.3 160.5h.01M372.6 162.1h.01M424.3 157.2h.01M365.2 164.3h.01M351.3 166.2h.01M362.0 167.0h.01M348.0 169.2h.01M354.6 170.3h.01M365.2 173.6h.01M368.5 175.2h.01M353.8 175.2h.01M360.3 177.7h.01M363.6 181.0h.01M373.4 182.6h.01M377.5 183.4h.01M382.5 182.3h.01M393.1 184.3h.01M407.0 183.0h.01M379.2 185.9h.01M393.9 187.5h.01M402.1 191.1h.01" stroke="#e8123e" stroke-width="1.80" stroke-linecap="round" opacity="1.0" fill="none"/>
<path d="M287.4 170.8h.01M284.1 190.0h.01M395.9 170.3h.01M416.9 196.6h.01" stroke="#555" stroke-width="1.60" stroke-linecap="round" opacity="1.0" fill="none"/>
<line x1="262.5" y1="191.3" x2="432.0" y2="191.3" stroke="#333" stroke-width="1.0" stroke-dasharray="3,2.4,1.2,2.4"/>
<text x="84.3" y="226.0" font-family="Liberation Sans" font-size="10.7" fill="#333" textLength="85.8" lengthAdjust="spacingAndGlyphs">log<tspan font-size="7.2" dy="2.6">2</tspan><tspan dy="-2.6">(fold change)</tspan></text>
<text x="304.6" y="226.0" font-family="Liberation Sans" font-size="10.7" fill="#333" textLength="85.4" lengthAdjust="spacingAndGlyphs">log<tspan font-size="7.2" dy="2.6">2</tspan><tspan dy="-2.6">(fold change)</tspan></text>
<text transform="translate(20.2,142.2) rotate(-90)" font-family="Liberation Sans" font-size="11" fill="#333" textLength="52.9" lengthAdjust="spacingAndGlyphs">−log<tspan font-size="7.3" dy="2.3">10</tspan><tspan dy="-2.3">(padj)</tspan></text>
<text transform="translate(237.8,142.2) rotate(-90)" font-family="Liberation Sans" font-size="11" fill="#333" textLength="53.9" lengthAdjust="spacingAndGlyphs">−log<tspan font-size="7.3" dy="2.3">10</tspan><tspan dy="-2.3">(padj)</tspan></text>
<rect x="528.60" y="71.00" width="35.40" height="8.30" fill="#f42a2a" stroke="none" stroke-width="1" shape-rendering="crispEdges"/>
<rect x="528.60" y="79.00" width="35.40" height="91.30" fill="#fc0c0c" stroke="none" stroke-width="1" shape-rendering="crispEdges"/>
<rect x="528.60" y="170.00" width="35.40" height="5.30" fill="#7a82f0" stroke="none" stroke-width="1" shape-rendering="crispEdges"/>
<rect x="528.60" y="175.00" width="35.40" height="6.30" fill="#a8b0f4" stroke="none" stroke-width="1" shape-rendering="crispEdges"/>
<rect x="528.60" y="181.00" width="35.40" height="2.30" fill="#c4c8f4" stroke="none" stroke-width="1" shape-rendering="crispEdges"/>
<rect x="528.60" y="183.00" width="35.40" height="7.30" fill="#ececfa" stroke="none" stroke-width="1" shape-rendering="crispEdges"/>
<rect x="528.60" y="190.00" width="35.40" height="7.30" fill="#f45050" stroke="none" stroke-width="1" shape-rendering="crispEdges"/>
<rect x="528.60" y="197.00" width="35.40" height="6.30" fill="#f8c4bc" stroke="none" stroke-width="1" shape-rendering="crispEdges"/>
<rect x="528.60" y="203.00" width="35.40" height="7.30" fill="#f06464" stroke="none" stroke-width="1" shape-rendering="crispEdges"/>
<rect x="528.60" y="210.00" width="35.40" height="5.30" fill="#f43a3a" stroke="none" stroke-width="1" shape-rendering="crispEdges"/>
<rect x="528.60" y="215.00" width="35.40" height="42.30" fill="#f81a1a" stroke="none" stroke-width="1" shape-rendering="crispEdges"/>
<rect x="528.60" y="257.00" width="35.40" height="3.30" fill="#c8d0f4" stroke="none" stroke-width="1" shape-rendering="crispEdges"/>
<rect x="528.60" y="260.00" width="35.40" height="3.30" fill="#e8e8fa" stroke="none" stroke-width="1" shape-rendering="crispEdges"/>
<rect x="528.60" y="263.00" width="35.40" height="6.30" fill="#f4b8b0" stroke="none" stroke-width="1" shape-rendering="crispEdges"/>
<rect x="528.60" y="269.00" width="35.40" height="6.30" fill="#f8e0e0" stroke="none" stroke-width="1" shape-rendering="crispEdges"/>
<rect x="528.60" y="275.00" width="35.40" height="25.30" fill="#0606f0" stroke="none" stroke-width="1" shape-rendering="crispEdges"/>
<rect x="528.60" y="300.00" width="35.40" height="9.30" fill="#1828f0" stroke="none" stroke-width="1" shape-rendering="crispEdges"/>
<rect x="528.60" y="309.00" width="35.40" height="9.30" fill="#2232ee" stroke="none" stroke-width="1" shape-rendering="crispEdges"/>
<rect x="528.60" y="318.00" width="35.40" height="16.30" fill="#5058f0" stroke="none" stroke-width="1" shape-rendering="crispEdges"/>
<rect x="528.60" y="334.00" width="35.40" height="50.30" fill="#0808f0" stroke="none" stroke-width="1" shape-rendering="crispEdges"/>
<rect x="528.60" y="384.00" width="35.40" height="6.30" fill="#5a62ee" stroke="none" stroke-width="1" shape-rendering="crispEdges"/>
<rect x="528.60" y="390.00" width="35.40" height="8.30" fill="#2838e8" stroke="none" stroke-width="1" shape-rendering="crispEdges"/>
<rect x="528.60" y="398.00" width="35.40" height="9.60" fill="#4a58ec" stroke="none" stroke-width="1" shape-rendering="crispEdges"/>
<rect x="564.00" y="71.00" width="34.40" height="9.30" fill="#0404e6" stroke="none" stroke-width="1" shape-rendering="crispEdges"/>
<rect x="564.00" y="80.00" width="34.40" height="20.50" fill="#1a2ae2" stroke="none" stroke-width="1" shape-rendering="crispEdges"/>
<rect x="564.00" y="100.20" width="34.40" height="12.10" fill="#9096f0" stroke="none" stroke-width="1" shape-rendering="crispEdges"/>
<rect x="564.00" y="112.00" width="34.40" height="6.30" fill="#a0a6f2" stroke="none" stroke-width="1" shape-rendering="crispEdges"/>
<rect x="564.00" y="118.00" width="34.40" height="15.30" fill="#9aa0f2" stroke="none" stroke-width="1" shape-rendering="crispEdges"/>
<rect x="564.00" y="133.00" width="34.40" height="16.30" fill="#4e58e8" stroke="none" stroke-width="1" shape-rendering="crispEdges"/>
<rect x="564.00" y="149.00" width="34.40" height="11.30" fill="#7f88f0" stroke="none" stroke-width="1" shape-rendering="crispEdges"/>
<rect x="564.00" y="160.00" width="34.40" height="11.30" fill="#5a62ea" stroke="none" stroke-width="1" shape-rendering="crispEdges"/>
<rect x="564.00" y="171.00" width="34.40" height="7.30" fill="#4a52e6" stroke="none" stroke-width="1" shape-rendering="crispEdges"/>
<rect x="564.00" y="178.00" width="34.40" height="12.30" fill="#3a48e8" stroke="none" stroke-width="1" shape-rendering="crispEdges"/>
<rect x="564.00" y="190.00" width="34.40" height="19.80" fill="#0410e8" stroke="none" stroke-width="1" shape-rendering="crispEdges"/>
<rect x="564.00" y="209.50" width="34.40" height="4.80" fill="#f4a8a0" stroke="none" stroke-width="1" shape-rendering="crispEdges"/>
<rect x="564.00" y="214.00" width="34.40" height="8.30" fill="#f8d8d8" stroke="none" stroke-width="1" shape-rendering="crispEdges"/>
<rect x="564.00" y="222.00" width="34.40" height="5.30" fill="#f0a8a0" stroke="none" stroke-width="1" shape-rendering="crispEdges"/>
<rect x="564.00" y="227.00" width="34.40" height="8.30" fill="#f0eef6" stroke="none" stroke-width="1" shape-rendering="crispEdges"/>
<rect x="564.00" y="235.00" width="34.40" height="8.30" fill="#f0f0fa" stroke="none" stroke-width="1" shape-rendering="crispEdges"/>
<rect x="564.00" y="243.00" width="34.40" height="7.30" fill="#c0c4f0" stroke="none" stroke-width="1" shape-rendering="crispEdges"/>
<rect x="564.00" y="250.00" width="34.40" height="7.30" fill="#d0d4f4" stroke="none" stroke-width="1" shape-rendering="crispEdges"/>
<rect x="564.00" y="257.00" width="34.40" height="8.30" fill="#f01818" stroke="none" stroke-width="1" shape-rendering="crispEdges"/>
<rect x="564.00" y="265.00" width="34.40" height="10.30" fill="#f04040" stroke="none" stroke-width="1" shape-rendering="crispEdges"/>
<rect x="564.00" y="275.00" width="34.40" height="10.30" fill="#f8e0e0" stroke="none" stroke-width="1" shape-rendering="crispEdges"/>
<rect x="564.00" y="285.00" width="34.40" height="15.30" fill="#f4b0a8" stroke="none" stroke-width="1" shape-rendering="crispEdges"/>
<rect x="564.00" y="300.00" width="34.40" height="8.30" fill="#c8ccf4" stroke="none" stroke-width="1" shape-rendering="crispEdges"/>
<rect x="564.00" y="308.00" width="34.40" height="10.30" fill="#f8f8ff" stroke="none" stroke-width="1" shape-rendering="crispEdges"/>
<rect x="564.00" y="318.00" width="34.40" height="16.30" fill="#9098f0" stroke="none" stroke-width="1" shape-rendering="crispEdges"/>
<rect x="564.00" y="334.00" width="34.40" height="21.30" fill="#f03030" stroke="none" stroke-width="1" shape-rendering="crispEdges"/>
<rect x="564.00" y="355.00" width="34.40" height="7.30" fill="#f47878" stroke="none" stroke-width="1" shape-rendering="crispEdges"/>
<rect x="564.00" y="362.00" width="34.40" height="8.30" fill="#f49090" stroke="none" stroke-width="1" shape-rendering="crispEdges"/>
<rect x="564.00" y="370.00" width="34.40" height="14.30" fill="#f05050" stroke="none" stroke-width="1" shape-rendering="crispEdges"/>
<rect x="564.00" y="384.00" width="34.40" height="23.60" fill="#fc0808" stroke="none" stroke-width="1" shape-rendering="crispEdges"/>
<rect x="598.40" y="71.00" width="34.20" height="6.30" fill="#f8c0c0" stroke="none" stroke-width="1" shape-rendering="crispEdges"/>
<rect x="598.40" y="77.00" width="34.20" height="9.30" fill="#fafafa" stroke="none" stroke-width="1" shape-rendering="crispEdges"/>
<rect x="598.40" y="86.00" width="34.20" height="7.30" fill="#dcdcf8" stroke="none" stroke-width="1" shape-rendering="crispEdges"/>
<rect x="598.40" y="93.00" width="34.20" height="7.50" fill="#c8c8f4" stroke="none" stroke-width="1" shape-rendering="crispEdges"/>
<rect x="598.40" y="100.20" width="34.20" height="33.10" fill="#5a5ff0" stroke="none" stroke-width="1" shape-rendering="crispEdges"/>
<rect x="598.40" y="133.00" width="34.20" height="17.30" fill="#a8acf4" stroke="none" stroke-width="1" shape-rendering="crispEdges"/>
<rect x="598.40" y="150.00" width="34.20" height="20.30" fill="#8a90f0" stroke="none" stroke-width="1" shape-rendering="crispEdges"/>
<rect x="598.40" y="170.00" width="34.20" height="20.30" fill="#fc0000" stroke="none" stroke-width="1" shape-rendering="crispEdges"/>
<rect x="598.40" y="190.00" width="34.20" height="9.30" fill="#f8a0a0" stroke="none" stroke-width="1" shape-rendering="crispEdges"/>
<rect x="598.40" y="199.00" width="34.20" height="10.80" fill="#f03030" stroke="none" stroke-width="1" shape-rendering="crispEdges"/>
<rect x="598.40" y="209.50" width="34.20" height="35.80" fill="#1020f0" stroke="none" stroke-width="1" shape-rendering="crispEdges"/>
<rect x="598.40" y="245.00" width="34.20" height="13.30" fill="#3848e8" stroke="none" stroke-width="1" shape-rendering="crispEdges"/>
<rect x="598.40" y="258.00" width="34.20" height="7.30" fill="#2838e8" stroke="none" stroke-width="1" shape-rendering="crispEdges"/>
<rect x="598.40" y="265.00" width="34.20" height="10.30" fill="#0010f0" stroke="none" stroke-width="1" shape-rendering="crispEdges"/>
<rect x="598.40" y="275.00" width="34.20" height="25.30" fill="#f04848" stroke="none" stroke-width="1" shape-rendering="crispEdges"/>
<rect x="598.40" y="300.00" width="34.20" height="34.30" fill="#fc0808" stroke="none" stroke-width="1" shape-rendering="crispEdges"/>
<rect x="598.40" y="334.00" width="34.20" height="8.30" fill="#f4b8b8" stroke="none" stroke-width="1" shape-rendering="crispEdges"/>
<rect x="598.40" y="342.00" width="34.20" height="13.30" fill="#f8e8e8" stroke="none" stroke-width="1" shape-rendering="crispEdges"/>
<rect x="598.40" y="355.00" width="34.20" height="13.30" fill="#f06868" stroke="none" stroke-width="1" shape-rendering="crispEdges"/>
<rect x="598.40" y="368.00" width="34.20" height="16.30" fill="#f49090" stroke="none" stroke-width="1" shape-rendering="crispEdges"/>
<rect x="598.40" y="384.00" width="34.20" height="6.30" fill="#6068ec" stroke="none" stroke-width="1" shape-rendering="crispEdges"/>
<rect x="598.40" y="390.00" width="34.20" height="8.30" fill="#eeeefa" stroke="none" stroke-width="1" shape-rendering="crispEdges"/>
<rect x="598.40" y="398.00" width="34.20" height="9.60" fill="#b0b8f4" stroke="none" stroke-width="1" shape-rendering="crispEdges"/>
<defs><linearGradient id="cb" x1="0" y1="0" x2="0" y2="1"><stop offset="0" stop-color="#ff0000"/><stop offset="0.5" stop-color="#ffffff"/><stop offset="1" stop-color="#0000ff"/></linearGradient></defs>
<rect x="637.40" y="70.80" width="9.40" height="133.20" fill="url(#cb)" stroke="none" stroke-width="1" />
<text x="649.2" y="84.2" font-family="Liberation Sans" font-size="9.8" fill="#333" text-anchor="start" >1</text>
<text x="649.2" y="113.0" font-family="Liberation Sans" font-size="9.8" fill="#333" text-anchor="start" >0.5</text>
<text x="649.2" y="142.3" font-family="Liberation Sans" font-size="9.8" fill="#333" text-anchor="start" >0</text>
<text x="649.2" y="170.5" font-family="Liberation Sans" font-size="9.8" fill="#333" text-anchor="start" >-0.5</text>
<text x="649.2" y="199.5" font-family="Liberation Sans" font-size="9.8" fill="#333" text-anchor="start" >-1</text>
<text transform="translate(544.0,409.0) rotate(90)" font-family="Liberation Sans" font-size="9.6" fill="#333">shL3</text>
<text transform="translate(578.0,409.0) rotate(90)" font-family="Liberation Sans" font-size="9.6" fill="#333">CTR</text>
<text transform="translate(611.9,409.0) rotate(90)" font-family="Liberation Sans" font-size="9.6" fill="#333">shL14</text>
<polyline points="547.0,71.0 547.0,24.3 598.8,24.3 598.8,37.5" fill="none" stroke="#666" stroke-width="1.1"/>
<polyline points="581.7,71.0 581.7,37.5 616.0,37.5 616.0,71.0" fill="none" stroke="#666" stroke-width="1.1"/>
<polyline points="482.8,148.1 479.8,148.1 479.8,337.5 486.0,337.5" fill="none" stroke="#666" stroke-width="1.1"/>
<polyline points="479.8,244.8 492.8,244.8" fill="none" stroke="#666" stroke-width="1.1"/>
<polyline points="505.0,106.7 482.8,106.7 482.8,189.7 498.3,189.7" fill="none" stroke="#666" stroke-width="1.1"/>
<polyline points="517.7,80.7 505.0,80.7 505.0,132.5 515.8,132.5" fill="none" stroke="#666" stroke-width="1.1"/>
<polyline points="523.0,74.4 517.7,74.4 517.7,87.5 522.3,87.5" fill="none" stroke="#666" stroke-width="1.1"/>
<polyline points="522.3,115.5 515.8,115.5 515.8,150.0 521.9,150.0" fill="none" stroke="#666" stroke-width="1.1"/>
<polyline points="515.1,180.9 498.3,180.9 498.3,198.2 511.0,198.2" fill="none" stroke="#666" stroke-width="1.1"/>
<polyline points="523.4,176.3 515.1,176.3 515.1,185.0 523.4,185.0" fill="none" stroke="#666" stroke-width="1.1"/>
<polyline points="522.0,193.6 511.0,193.6 511.0,203.4 519.4,203.4" fill="none" stroke="#666" stroke-width="1.1"/>
<polyline points="509.8,225.2 492.8,225.2 492.8,265.3 510.2,265.3" fill="none" stroke="#666" stroke-width="1.1"/>
<polyline points="522.0,214.5 509.8,214.5 509.8,235.7 519.6,235.7" fill="none" stroke="#666" stroke-width="1.1"/>
<polyline points="522.0,260.5 510.2,260.5 510.2,269.6 522.0,269.6" fill="none" stroke="#666" stroke-width="1.1"/>
<polyline points="509.0,301.2 486.0,301.2 486.0,374.0 499.3,374.0" fill="none" stroke="#666" stroke-width="1.1"/>
<polyline points="522.0,286.0 509.0,286.0 509.0,316.3 518.3,316.3" fill="none" stroke="#666" stroke-width="1.1"/>
<polyline points="513.9,355.6 499.3,355.6 499.3,392.4 513.6,392.4" fill="none" stroke="#666" stroke-width="1.1"/>
<polyline points="522.4,343.0 513.9,343.0 513.9,367.5 521.7,367.5" fill="none" stroke="#666" stroke-width="1.1"/>
<polyline points="520.0,386.2 513.6,386.2 513.6,397.6 520.0,397.6" fill="none" stroke="#666" stroke-width="1.1"/>
<polyline points="526.5,71.5 523.0,71.5 523.0,77.5 526.5,77.5" fill="none" stroke="#555" stroke-width="1.0"/>
<polyline points="526.5,84.4 522.3,84.4 522.3,94.8 526.5,94.8" fill="none" stroke="#555" stroke-width="1.0"/>
<polyline points="526.5,108.8 522.3,108.8 522.3,121.8 526.5,121.8" fill="none" stroke="#555" stroke-width="1.0"/>
<polyline points="526.5,136.7 521.9,136.7 521.9,162.8 526.5,162.8" fill="none" stroke="#555" stroke-width="1.0"/>
<polyline points="526.5,172.7 523.4,172.7 523.4,179.2 526.5,179.2" fill="none" stroke="#555" stroke-width="1.0"/>
<polyline points="526.5,183.8 523.4,183.8 523.4,187.7 526.5,187.7" fill="none" stroke="#555" stroke-width="1.0"/>
<polyline points="526.5,191.6 522.0,191.6 522.0,195.6 526.5,195.6" fill="none" stroke="#555" stroke-width="1.0"/>
<polyline points="526.5,200.0 519.4,200.0 519.4,208.0 526.5,208.0" fill="none" stroke="#555" stroke-width="1.0"/>
<polyline points="526.5,208.5 522.0,208.5 522.0,220.5 526.5,220.5" fill="none" stroke="#555" stroke-width="1.0"/>
<polyline points="526.5,228.0 519.6,228.0 519.6,242.0 526.5,242.0" fill="none" stroke="#555" stroke-width="1.0"/>
<polyline points="526.5,257.0 522.0,257.0 522.0,263.5 526.5,263.5" fill="none" stroke="#555" stroke-width="1.0"/>
<polyline points="526.5,266.0 522.0,266.0 522.0,273.0 526.5,273.0" fill="none" stroke="#555" stroke-width="1.0"/>
<polyline points="526.5,280.0 522.0,280.0 522.0,291.5 526.5,291.5" fill="none" stroke="#555" stroke-width="1.0"/>
<polyline points="526.5,308.0 518.3,308.0 518.3,325.0 526.5,325.0" fill="none" stroke="#555" stroke-width="1.0"/>
<polyline points="526.5,337.7 522.4,337.7 522.4,348.8 526.5,348.8" fill="none" stroke="#555" stroke-width="1.0"/>
<polyline points="526.5,362.6 521.7,362.6 521.7,379.7 526.5,379.7" fill="none" stroke="#555" stroke-width="1.0"/>
<polyline points="526.5,384.6 520.0,384.6 520.0,388.6 526.5,388.6" fill="none" stroke="#555" stroke-width="1.0"/>
<polyline points="526.5,393.5 520.0,393.5 520.0,404.0 526.5,404.0" fill="none" stroke="#555" stroke-width="1.0"/>
<polyline points="528.9,71.0 526.8,72.7 528.9,74.4 526.8,76.1 528.9,77.8 526.8,79.5 528.9,81.2 526.8,82.9 528.9,84.6 526.8,86.3 528.9,88.0 526.8,89.7 528.9,91.4 526.8,93.1 528.9,94.8 526.8,96.5 528.9,98.2 526.8,99.9 528.9,101.6 526.8,103.3 528.9,105.0 526.8,106.7 528.9,108.4 526.8,110.1 528.9,111.8 526.8,113.5 528.9,115.2 526.8,116.9 528.9,118.6 526.8,120.3 528.9,122.0 526.8,123.7 528.9,125.4 526.8,127.1 528.9,128.8 526.8,130.5 528.9,132.2 526.8,133.9 528.9,135.6 526.8,137.3 528.9,139.0 526.8,140.7 528.9,142.4 526.8,144.1 528.9,145.8 526.8,147.5 528.9,149.2 526.8,150.9 528.9,152.6 526.8,154.3 528.9,156.0 526.8,157.7 528.9,159.4 526.8,161.1 528.9,162.8 526.8,164.5 528.9,166.2 526.8,167.9 528.9,169.6 526.8,171.3 528.9,173.0 526.8,174.7 528.9,176.4 526.8,178.1 528.9,179.8 526.8,181.5 528.9,183.2 526.8,184.9 528.9,186.6 526.8,188.3 528.9,190.0 526.8,191.7 528.9,193.4 526.8,195.1 528.9,196.8 526.8,198.5 528.9,200.2 526.8,201.9 528.9,203.6 526.8,205.3 528.9,207.0 526.8,208.7 528.9,210.4 526.8,212.1 528.9,213.8 526.8,215.5 528.9,217.2 526.8,218.9 528.9,220.6 526.8,222.3 528.9,224.0 526.8,225.7 528.9,227.4 526.8,229.1 528.9,230.8 526.8,232.5 528.9,234.2 526.8,235.9 528.9,237.6 526.8,239.3 528.9,241.0 526.8,242.7 528.9,244.4 526.8,246.1 528.9,247.8 526.8,249.5 528.9,251.2 526.8,252.9 528.9,254.6 526.8,256.3 528.9,258.0 526.8,259.7 528.9,261.4 526.8,263.1 528.9,264.8 526.8,266.5 528.9,268.2 526.8,269.9 528.9,271.6 526.8,273.3 528.9,275.0 526.8,276.7 528.9,278.4 526.8,280.1 528.9,281.8 526.8,283.5 528.9,285.2 526.8,286.9 528.9,288.6 526.8,290.3 528.9,292.0 526.8,293.7 528.9,295.4 526.8,297.1 528.9,298.8 526.8,300.5 528.9,302.2 526.8,303.9 528.9,305.6 526.8,307.3 528.9,309.0 526.8,310.7 528.9,312.4 526.8,314.1 528.9,315.8 526.8,317.5 528.9,319.2 526.8,320.9 528.9,322.6 526.8,324.3 528.9,326.0 526.8,327.7 528.9,329.4 526.8,331.1 528.9,332.8 526.8,334.5 528.9,336.2 526.8,337.9 528.9,339.6 526.8,341.3 528.9,343.0 526.8,344.7 528.9,346.4 526.8,348.1 528.9,349.8 526.8,351.5 528.9,353.2 526.8,354.9 528.9,356.6 526.8,358.3 528.9,360.0 526.8,361.7 528.9,363.4 526.8,365.1 528.9,366.8 526.8,368.5 528.9,370.2 526.8,371.9 528.9,373.6 526.8,375.3 528.9,377.0 526.8,378.7 528.9,380.4 526.8,382.1 528.9,383.8 526.8,385.5 528.9,387.2 526.8,388.9 528.9,390.6 526.8,392.3 528.9,394.0 526.8,395.7 528.9,397.4 526.8,399.1 528.9,400.8 526.8,402.5 528.9,404.2 526.8,405.9" fill="none" stroke="#1a1a1a" stroke-width="1.1"/>
<polyline points="527.2,72.7 524.6,72.7 524.6,76.1 527.2,76.1" fill="none" stroke="#666" stroke-width="0.9"/>
<polyline points="527.2,79.5 524.6,79.5 524.6,82.9 527.2,82.9" fill="none" stroke="#666" stroke-width="0.9"/>
<polyline points="527.2,86.3 524.6,86.3 524.6,89.7 527.2,89.7" fill="none" stroke="#666" stroke-width="0.9"/>
<polyline points="527.2,93.1 524.6,93.1 524.6,96.5 527.2,96.5" fill="none" stroke="#666" stroke-width="0.9"/>
<polyline points="527.2,99.9 524.6,99.9 524.6,103.3 527.2,103.3" fill="none" stroke="#666" stroke-width="0.9"/>
<polyline points="527.2,106.7 524.6,106.7 524.6,110.1 527.2,110.1" fill="none" stroke="#666" stroke-width="0.9"/>
<polyline points="527.2,113.5 524.6,113.5 524.6,116.9 527.2,116.9" fill="none" stroke="#666" stroke-width="0.9"/>
<polyline points="527.2,120.3 524.6,120.3 524.6,123.7 527.2,123.7" fill="none" stroke="#666" stroke-width="0.9"/>
<polyline points="527.2,127.1 524.6,127.1 524.6,130.5 527.2,130.5" fill="none" stroke="#666" stroke-width="0.9"/>
<polyline points="527.2,133.9 524.6,133.9 524.6,137.3 527.2,137.3" fill="none" stroke="#666" stroke-width="0.9"/>
<polyline points="527.2,140.7 524.6,140.7 524.6,144.1 527.2,144.1" fill="none" stroke="#666" stroke-width="0.9"/>
<polyline points="527.2,147.5 524.6,147.5 524.6,150.9 527.2,150.9" fill="none" stroke="#666" stroke-width="0.9"/>
<polyline points="527.2,154.3 524.6,154.3 524.6,157.7 527.2,157.7" fill="none" stroke="#666" stroke-width="0.9"/>
<polyline points="527.2,161.1 524.6,161.1 524.6,164.5 527.2,164.5" fill="none" stroke="#666" stroke-width="0.9"/>
<polyline points="527.2,167.9 524.6,167.9 524.6,171.3 527.2,171.3" fill="none" stroke="#666" stroke-width="0.9"/>
<polyline points="527.2,174.7 524.6,174.7 524.6,178.1 527.2,178.1" fill="none" stroke="#666" stroke-width="0.9"/>
<polyline points="527.2,181.5 524.6,181.5 524.6,184.9 527.2,184.9" fill="none" stroke="#666" stroke-width="0.9"/>
<polyline points="527.2,188.3 524.6,188.3 524.6,191.7 527.2,191.7" fill="none" stroke="#666" stroke-width="0.9"/>
<polyline points="527.2,195.1 524.6,195.1 524.6,198.5 527.2,198.5" fill="none" stroke="#666" stroke-width="0.9"/>
<polyline points="527.2,201.9 524.6,201.9 524.6,205.3 527.2,205.3" fill="none" stroke="#666" stroke-width="0.9"/>
<polyline points="527.2,208.7 524.6,208.7 524.6,212.1 527.2,212.1" fill="none" stroke="#666" stroke-width="0.9"/>
<polyline points="527.2,215.5 524.6,215.5 524.6,218.9 527.2,218.9" fill="none" stroke="#666" stroke-width="0.9"/>
<polyline points="527.2,222.3 524.6,222.3 524.6,225.7 527.2,225.7" fill="none" stroke="#666" stroke-width="0.9"/>
<polyline points="527.2,229.1 524.6,229.1 524.6,232.5 527.2,232.5" fill="none" stroke="#666" stroke-width="0.9"/>
<polyline points="527.2,235.9 524.6,235.9 524.6,239.3 527.2,239.3" fill="none" stroke="#666" stroke-width="0.9"/>
<polyline points="527.2,242.7 524.6,242.7 524.6,246.1 527.2,246.1" fill="none" stroke="#666" stroke-width="0.9"/>
<polyline points="527.2,249.5 524.6,249.5 524.6,252.9 527.2,252.9" fill="none" stroke="#666" stroke-width="0.9"/>
<polyline points="527.2,256.3 524.6,256.3 524.6,259.7 527.2,259.7" fill="none" stroke="#666" stroke-width="0.9"/>
<polyline points="527.2,263.1 524.6,263.1 524.6,266.5 527.2,266.5" fill="none" stroke="#666" stroke-width="0.9"/>
<polyline points="527.2,269.9 524.6,269.9 524.6,273.3 527.2,273.3" fill="none" stroke="#666" stroke-width="0.9"/>
<polyline points="527.2,276.7 524.6,276.7 524.6,280.1 527.2,280.1" fill="none" stroke="#666" stroke-width="0.9"/>
<polyline points="527.2,283.5 524.6,283.5 524.6,286.9 527.2,286.9" fill="none" stroke="#666" stroke-width="0.9"/>
<polyline points="527.2,290.3 524.6,290.3 524.6,293.7 527.2,293.7" fill="none" stroke="#666" stroke-width="0.9"/>
<polyline points="527.2,297.1 524.6,297.1 524.6,300.5 527.2,300.5" fill="none" stroke="#666" stroke-width="0.9"/>
<polyline points="527.2,303.9 524.6,303.9 524.6,307.3 527.2,307.3" fill="none" stroke="#666" stroke-width="0.9"/>
<polyline points="527.2,310.7 524.6,310.7 524.6,314.1 527.2,314.1" fill="none" stroke="#666" stroke-width="0.9"/>
<polyline points="527.2,317.5 524.6,317.5 524.6,320.9 527.2,320.9" fill="none" stroke="#666" stroke-width="0.9"/>
<polyline points="527.2,324.3 524.6,324.3 524.6,327.7 527.2,327.7" fill="none" stroke="#666" stroke-width="0.9"/>
<polyline points="527.2,331.1 524.6,331.1 524.6,334.5 527.2,334.5" fill="none" stroke="#666" stroke-width="0.9"/>
<polyline points="527.2,337.9 524.6,337.9 524.6,341.3 527.2,341.3" fill="none" stroke="#666" stroke-width="0.9"/>
<polyline points="527.2,344.7 524.6,344.7 524.6,348.1 527.2,348.1" fill="none" stroke="#666" stroke-width="0.9"/>
<polyline points="527.2,351.5 524.6,351.5 524.6,354.9 527.2,354.9" fill="none" stroke="#666" stroke-width="0.9"/>
<polyline points="527.2,358.3 524.6,358.3 524.6,361.7 527.2,361.7" fill="none" stroke="#666" stroke-width="0.9"/>
<polyline points="527.2,365.1 524.6,365.1 524.6,368.5 527.2,368.5" fill="none" stroke="#666" stroke-width="0.9"/>
<polyline points="527.2,371.9 524.6,371.9 524.6,375.3 527.2,375.3" fill="none" stroke="#666" stroke-width="0.9"/>
<polyline points="527.2,378.7 524.6,378.7 524.6,382.1 527.2,382.1" fill="none" stroke="#666" stroke-width="0.9"/>
<polyline points="527.2,385.5 524.6,385.5 524.6,388.9 527.2,388.9" fill="none" stroke="#666" stroke-width="0.9"/>
<polyline points="527.2,392.3 524.6,392.3 524.6,395.7 527.2,395.7" fill="none" stroke="#666" stroke-width="0.9"/>
<polyline points="527.2,399.1 524.6,399.1 524.6,402.5 527.2,402.5" fill="none" stroke="#666" stroke-width="0.9"/>
<line x1="49.9" y1="269.0" x2="49.9" y2="400.7" stroke="#111" stroke-width="1.6" />
<line x1="49.9" y1="367.1" x2="246.5" y2="367.1" stroke="#111" stroke-width="1.6" />
<line x1="46.7" y1="269.5" x2="49.9" y2="269.5" stroke="#111" stroke-width="1.4" />
<text x="45.1" y="272.8" font-family="Liberation Sans" font-weight="bold" font-size="9.2" fill="#111" text-anchor="end" >3</text>
<line x1="46.7" y1="302.0" x2="49.9" y2="302.0" stroke="#111" stroke-width="1.4" />
<text x="45.1" y="305.3" font-family="Liberation Sans" font-weight="bold" font-size="9.2" fill="#111" text-anchor="end" >2</text>
<line x1="46.7" y1="334.6" x2="49.9" y2="334.6" stroke="#111" stroke-width="1.4" />
<text x="45.1" y="337.9" font-family="Liberation Sans" font-weight="bold" font-size="9.2" fill="#111" text-anchor="end" >1</text>
<line x1="46.7" y1="367.1" x2="49.9" y2="367.1" stroke="#111" stroke-width="1.4" />
<text x="45.1" y="370.4" font-family="Liberation Sans" font-weight="bold" font-size="9.2" fill="#111" text-anchor="end" >0</text>
<line x1="46.7" y1="399.7" x2="49.9" y2="399.7" stroke="#111" stroke-width="1.4" />
<text x="45.1" y="403.0" font-family="Liberation Sans" font-weight="bold" font-size="9.2" fill="#111" text-anchor="end" >-1</text>
<rect x="56.90" y="293.54" width="12.20" height="73.56" fill="#f20000" stroke="#222" stroke-width="1.0" />
<line x1="63.0" y1="367.1" x2="63.0" y2="370.3" stroke="#111" stroke-width="1.2" />
<text x="53.8" y="288.8" font-family="Liberation Sans" font-size="8.6" fill="#333" text-anchor="start" textLength="17.7" lengthAdjust="spacingAndGlyphs" >IFIT2</text>
<rect x="75.77" y="296.47" width="12.20" height="70.63" fill="#f20000" stroke="#222" stroke-width="1.0" />
<line x1="81.9" y1="367.1" x2="81.9" y2="370.3" stroke="#111" stroke-width="1.2" />
<text x="70.5" y="295.7" font-family="Liberation Sans" font-size="8.6" fill="#333" text-anchor="start" textLength="30.9" lengthAdjust="spacingAndGlyphs" >COL6A1</text>
<rect x="94.64" y="310.14" width="12.20" height="56.96" fill="#f20000" stroke="#222" stroke-width="1.0" />
<line x1="100.7" y1="367.1" x2="100.7" y2="370.3" stroke="#111" stroke-width="1.2" />
<text x="90.7" y="307.1" font-family="Liberation Sans" font-size="8.6" fill="#333" text-anchor="start" textLength="27.2" lengthAdjust="spacingAndGlyphs" >UNC5B</text>
<rect x="113.51" y="333.90" width="12.20" height="33.20" fill="#f20000" stroke="#222" stroke-width="1.0" />
<line x1="119.6" y1="367.1" x2="119.6" y2="370.3" stroke="#111" stroke-width="1.2" />
<text x="107.8" y="330.9" font-family="Liberation Sans" font-size="8.6" fill="#333" text-anchor="start" textLength="33.2" lengthAdjust="spacingAndGlyphs" >CDKN1A</text>
<rect x="132.38" y="348.22" width="12.20" height="18.88" fill="#f20000" stroke="#222" stroke-width="1.0" />
<line x1="138.5" y1="367.1" x2="138.5" y2="370.3" stroke="#111" stroke-width="1.2" />
<text x="126.4" y="344.1" font-family="Liberation Sans" font-size="8.6" fill="#333" text-anchor="start" textLength="28.4" lengthAdjust="spacingAndGlyphs" >VEGFA</text>
<rect x="151.25" y="353.10" width="12.20" height="14.00" fill="#f20000" stroke="#222" stroke-width="1.0" />
<line x1="157.3" y1="367.1" x2="157.3" y2="370.3" stroke="#111" stroke-width="1.2" />
<text x="146.5" y="351.1" font-family="Liberation Sans" font-size="8.6" fill="#333" text-anchor="start" textLength="27.3" lengthAdjust="spacingAndGlyphs" >CCND1</text>
<rect x="170.12" y="367.10" width="12.20" height="14.65" fill="#0e7a10" stroke="#222" stroke-width="1.0" />
<line x1="176.2" y1="367.1" x2="176.2" y2="370.3" stroke="#111" stroke-width="1.2" />
<text x="164.2" y="390.1" font-family="Liberation Sans" font-size="8.6" fill="#333" text-anchor="start" textLength="19.2" lengthAdjust="spacingAndGlyphs" >PGK1</text>
<rect x="188.99" y="367.10" width="12.20" height="20.18" fill="#0e7a10" stroke="#222" stroke-width="1.0" />
<line x1="195.1" y1="367.1" x2="195.1" y2="370.3" stroke="#111" stroke-width="1.2" />
<text x="185.0" y="398.1" font-family="Liberation Sans" font-size="8.6" fill="#333" text-anchor="start" textLength="19.0" lengthAdjust="spacingAndGlyphs" >STX3</text>
<rect x="207.86" y="367.10" width="12.20" height="21.81" fill="#0e7a10" stroke="#222" stroke-width="1.0" />
<line x1="214.0" y1="367.1" x2="214.0" y2="370.3" stroke="#111" stroke-width="1.2" />
<text x="204.7" y="404.8" font-family="Liberation Sans" font-size="8.6" fill="#333" text-anchor="start" textLength="16.1" lengthAdjust="spacingAndGlyphs" >EED</text>
<rect x="226.73" y="367.10" width="12.20" height="28.64" fill="#0e7a10" stroke="#222" stroke-width="1.0" />
<line x1="232.8" y1="367.1" x2="232.8" y2="370.3" stroke="#111" stroke-width="1.2" />
<text x="218.6" y="411.5" font-family="Liberation Sans" font-size="8.6" fill="#333" text-anchor="start" textLength="31.4" lengthAdjust="spacingAndGlyphs" >CDC25A</text>
<text transform="translate(30.8,379.0) rotate(-90)" font-family="Liberation Sans" font-weight="bold" font-size="10.6" fill="#111" textLength="90.5" lengthAdjust="spacingAndGlyphs">log<tspan font-size="7.2" dy="2.2">2</tspan><tspan dy="-2.2">(Fold change)</tspan></text>
<line x1="288.5" y1="278.0" x2="288.5" y2="410.0" stroke="#111" stroke-width="1.6" />
<line x1="288.5" y1="365.5" x2="471.0" y2="365.5" stroke="#111" stroke-width="1.6" />
<line x1="285.3" y1="278.5" x2="288.5" y2="278.5" stroke="#111" stroke-width="1.4" />
<text x="283.7" y="281.8" font-family="Liberation Sans" font-weight="bold" font-size="9.2" fill="#111" text-anchor="end" >2</text>
<line x1="285.3" y1="322.0" x2="288.5" y2="322.0" stroke="#111" stroke-width="1.4" />
<text x="283.7" y="325.3" font-family="Liberation Sans" font-weight="bold" font-size="9.2" fill="#111" text-anchor="end" >1</text>
<line x1="285.3" y1="365.5" x2="288.5" y2="365.5" stroke="#111" stroke-width="1.4" />
<text x="283.7" y="368.8" font-family="Liberation Sans" font-weight="bold" font-size="9.2" fill="#111" text-anchor="end" >0</text>
<line x1="285.3" y1="409.0" x2="288.5" y2="409.0" stroke="#111" stroke-width="1.4" />
<text x="283.7" y="412.3" font-family="Liberation Sans" font-weight="bold" font-size="9.2" fill="#111" text-anchor="end" >-1</text>
<rect x="298.80" y="288.94" width="18.80" height="76.56" fill="#f20000" stroke="#222" stroke-width="1.0" />
<line x1="308.2" y1="365.5" x2="308.2" y2="368.7" stroke="#111" stroke-width="1.2" />
<text x="293.8" y="286.9" font-family="Liberation Sans" font-size="8.6" fill="#333" text-anchor="start" textLength="28.7" lengthAdjust="spacingAndGlyphs" >UNC5B</text>
<rect x="327.38" y="304.17" width="18.80" height="61.33" fill="#f20000" stroke="#222" stroke-width="1.0" />
<line x1="336.8" y1="365.5" x2="336.8" y2="368.7" stroke="#111" stroke-width="1.2" />
<text x="321.6" y="301.6" font-family="Liberation Sans" font-size="8.6" fill="#333" text-anchor="start" textLength="30.0" lengthAdjust="spacingAndGlyphs" >CCND1</text>
<rect x="355.96" y="328.52" width="18.80" height="36.98" fill="#f20000" stroke="#222" stroke-width="1.0" />
<line x1="365.4" y1="365.5" x2="365.4" y2="368.7" stroke="#111" stroke-width="1.2" />
<text x="348.0" y="324.4" font-family="Liberation Sans" font-size="8.6" fill="#333" text-anchor="start" textLength="36.6" lengthAdjust="spacingAndGlyphs" >CDKN1A</text>
<rect x="384.54" y="339.83" width="18.80" height="25.67" fill="#f20000" stroke="#222" stroke-width="1.0" />
<line x1="393.9" y1="365.5" x2="393.9" y2="368.7" stroke="#111" stroke-width="1.2" />
<text x="378.6" y="338.1" font-family="Liberation Sans" font-size="8.6" fill="#333" text-anchor="start" textLength="30.9" lengthAdjust="spacingAndGlyphs" >VEGFA</text>
<rect x="413.12" y="365.50" width="18.80" height="19.14" fill="#0e7a10" stroke="#222" stroke-width="1.0" />
<line x1="422.5" y1="365.5" x2="422.5" y2="368.7" stroke="#111" stroke-width="1.2" />
<text x="411.4" y="395.9" font-family="Liberation Sans" font-size="8.6" fill="#333" text-anchor="start" textLength="22.3" lengthAdjust="spacingAndGlyphs" >PGK1</text>
<rect x="441.70" y="365.50" width="18.80" height="34.80" fill="#0e7a10" stroke="#222" stroke-width="1.0" />
<line x1="451.1" y1="365.5" x2="451.1" y2="368.7" stroke="#111" stroke-width="1.2" />
<text x="434.5" y="410.1" font-family="Liberation Sans" font-size="8.6" fill="#333" text-anchor="start" textLength="35.8" lengthAdjust="spacingAndGlyphs" >CDC25A</text>
<text transform="translate(269.4,388.0) rotate(-90)" font-family="Liberation Sans" font-weight="bold" font-size="10.6" fill="#111" textLength="93.0" lengthAdjust="spacingAndGlyphs">log<tspan font-size="7.2" dy="2.2">2</tspan><tspan dy="-2.2">(Fold change)</tspan></text>
<rect x="54.25" y="437.05" width="271.20" height="35.90" fill="#fff" stroke="#1a1a1a" stroke-width="1.5" />
<text x="63.3" y="463.0" font-family="Liberation Sans" font-weight="bold" font-size="19.5" fill="#000" text-anchor="start" textLength="245.1" lengthAdjust="spacingAndGlyphs"  stroke="#000" stroke-width="0.35">P53 SIGNALING PATHWAY</text>
<rect x="48.35" y="486.45" width="86.40" height="35.30" fill="#fff" stroke="#1a1a1a" stroke-width="1.5" />
<text x="63.3" y="511.6" font-family="Liberation Sans" font-weight="bold" font-size="19.5" fill="#000" text-anchor="start" textLength="57.0" lengthAdjust="spacingAndGlyphs"  stroke="#000" stroke-width="0.35">Stress</text>
<rect x="211.05" y="485.15" width="146.60" height="36.00" fill="#fff" stroke="#1a1a1a" stroke-width="1.5" />
<text x="221.9" y="509.9" font-family="Liberation Sans" font-weight="bold" font-size="19.5" fill="#000" text-anchor="start" textLength="125.2" lengthAdjust="spacingAndGlyphs"  stroke="#000" stroke-width="0.35">DNA damage</text>
<rect x="446.05" y="485.65" width="71.00" height="36.40" fill="#fff" stroke="#1a1a1a" stroke-width="1.5" />
<text x="460.3" y="511.7" font-family="Liberation Sans" font-weight="bold" font-size="19.5" fill="#000" text-anchor="start" textLength="42.6" lengthAdjust="spacingAndGlyphs"  stroke="#000" stroke-width="0.35">ATM</text>
<rect x="46.35" y="559.05" width="230.80" height="35.50" fill="#fff" stroke="#1a1a1a" stroke-width="1.5" />
<text x="55.7" y="583.5" font-family="Liberation Sans" font-weight="bold" font-size="19.5" fill="#000" text-anchor="start" textLength="200.8" lengthAdjust="spacingAndGlyphs"  stroke="#000" stroke-width="0.35">Oncogene activiation</text>
<rect x="314.95" y="559.05" width="86.00" height="35.80" fill="#fff" stroke="#1a1a1a" stroke-width="1.5" />
<text x="325.8" y="584.4" font-family="Liberation Sans" font-weight="bold" font-size="19.5" fill="#000" text-anchor="start" textLength="65.1" lengthAdjust="spacingAndGlyphs"  stroke="#000" stroke-width="0.35">MDM2</text>
<rect x="437.50" y="558.40" width="87.30" height="37.00" fill="#fff" stroke="#000" stroke-width="3.2" />
<text x="464.5" y="583.6" font-family="Liberation Sans" font-weight="bold" font-size="19.5" fill="#000" text-anchor="start" textLength="34.0" lengthAdjust="spacingAndGlyphs"  stroke="#000" stroke-width="0.35">p53</text>
<rect x="46.35" y="646.25" width="165.90" height="35.10" fill="#fff" stroke="#1a1a1a" stroke-width="1.5" />
<text x="55.9" y="671.3" font-family="Liberation Sans" font-weight="bold" font-size="19.5" fill="#000" text-anchor="start" textLength="147.8" lengthAdjust="spacingAndGlyphs"  stroke="#000" stroke-width="0.35">Cell cycle arrest</text>
<rect x="268.45" y="646.35" width="114.90" height="34.70" fill="#fff" stroke="#1a1a1a" stroke-width="1.5" />
<text x="281.5" y="671.1" font-family="Liberation Sans" font-weight="bold" font-size="19.5" fill="#000" text-anchor="start" textLength="88.0" lengthAdjust="spacingAndGlyphs"  stroke="#000" stroke-width="0.35">G1 arrest</text>
<rect x="438.45" y="646.25" width="86.20" height="35.00" fill="#fff" stroke="#1a1a1a" stroke-width="1.5" />
<text x="464.6" y="670.8" font-family="Liberation Sans" font-weight="bold" font-size="19.5" fill="#000" text-anchor="start" textLength="33.9" lengthAdjust="spacingAndGlyphs"  stroke="#000" stroke-width="0.35">p21</text>
<text x="489.7" y="635.5" font-family="Liberation Sans" font-weight="bold" font-size="19.5" fill="#000" text-anchor="start" textLength="42.2" lengthAdjust="spacingAndGlyphs"  stroke="#000" stroke-width="0.35">DNA</text>
<line x1="136.0" y1="503.8" x2="209.4" y2="503.8" stroke="#4a74ad" stroke-width="1.4" />
<polyline points="201.9,508.6 209.4,503.8 201.9,499.0" fill="none" stroke="#4a74ad" stroke-width="1.4"/>
<line x1="365.2" y1="503.7" x2="444.6" y2="503.7" stroke="#4a74ad" stroke-width="1.4" />
<polyline points="437.1,508.5 444.6,503.7 437.1,498.9" fill="none" stroke="#4a74ad" stroke-width="1.4"/>
<line x1="482.0" y1="522.8" x2="482.0" y2="556.3" stroke="#4a74ad" stroke-width="1.4" />
<polyline points="477.2,548.8 482.0,556.3 486.8,548.8" fill="none" stroke="#4a74ad" stroke-width="1.4"/>
<line x1="277.9" y1="576.4" x2="307.4" y2="576.4" stroke="#4a74ad" stroke-width="1.4" />
<line x1="307.4" y1="566.0" x2="307.4" y2="587.0" stroke="#4a74ad" stroke-width="1.4" />
<line x1="401.7" y1="569.0" x2="430.3" y2="569.0" stroke="#4a74ad" stroke-width="1.4" />
<line x1="430.3" y1="559.0" x2="430.3" y2="579.0" stroke="#4a74ad" stroke-width="1.4" />
<line x1="430.3" y1="587.0" x2="402.4" y2="587.0" stroke="#4a74ad" stroke-width="1.4" />
<polyline points="409.9,582.2 402.4,587.0 409.9,591.8" fill="none" stroke="#4a74ad" stroke-width="1.4"/>
<line x1="482.0" y1="597.0" x2="482.0" y2="645.0" stroke="#4a74ad" stroke-width="1.4" />
<polyline points="477.2,637.5 482.0,645.0 486.8,637.5" fill="none" stroke="#4a74ad" stroke-width="1.4"/>
<line x1="437.7" y1="662.5" x2="385.0" y2="662.5" stroke="#4a74ad" stroke-width="1.4" />
<polyline points="392.5,657.7 385.0,662.5 392.5,667.3" fill="none" stroke="#4a74ad" stroke-width="1.4"/>
<line x1="267.7" y1="664.0" x2="213.8" y2="664.0" stroke="#4a74ad" stroke-width="1.4" />
<polyline points="221.3,659.2 213.8,664.0 221.3,668.8" fill="none" stroke="#4a74ad" stroke-width="1.4"/>
</svg></body></html>
